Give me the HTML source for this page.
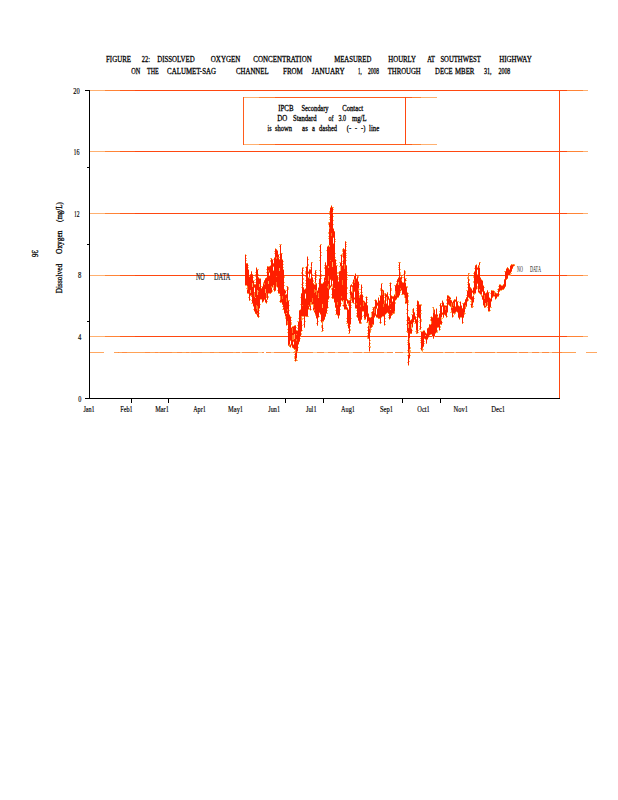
<!DOCTYPE html>
<html><head><meta charset="utf-8"><title>Figure 22</title>
<style>
html,body{margin:0;padding:0;background:#fff;}
body{width:618px;height:800px;overflow:hidden;font-family:"Liberation Serif",serif;}
svg{display:block;}
text{font-family:"Liberation Serif",serif;stroke:#000;stroke-width:0.3px;paint-order:stroke fill;}
</style></head><body>
<svg width="618" height="800" viewBox="0 0 618 800">
<rect width="618" height="800" fill="#fff"/>
<g shape-rendering="crispEdges">
<rect x="90" y="90" width="498" height="1" fill="#ffb070"/>
<rect x="105" y="90" width="478" height="1" fill="#ff8436"/>
<rect x="120" y="90" width="447" height="1" fill="#ff5c1c"/>
<rect x="135" y="90" width="432" height="1" fill="#ff4810"/>
<rect x="90" y="151" width="498" height="1" fill="#ffb070"/>
<rect x="105" y="151" width="478" height="1" fill="#ff8436"/>
<rect x="120" y="151" width="447" height="1" fill="#ff5c1c"/>
<rect x="135" y="151" width="432" height="1" fill="#ff4810"/>
<rect x="90" y="213" width="498" height="1" fill="#ffb070"/>
<rect x="105" y="213" width="478" height="1" fill="#ff8436"/>
<rect x="120" y="213" width="447" height="1" fill="#ff5c1c"/>
<rect x="135" y="213" width="432" height="1" fill="#ff4810"/>
<rect x="90" y="275" width="498" height="1" fill="#ffb070"/>
<rect x="105" y="275" width="478" height="1" fill="#ff8436"/>
<rect x="120" y="275" width="447" height="1" fill="#ff5c1c"/>
<rect x="135" y="275" width="432" height="1" fill="#ff4810"/>
<rect x="90" y="336" width="498" height="1" fill="#ffb070"/>
<rect x="105" y="336" width="478" height="1" fill="#ff8436"/>
<rect x="120" y="336" width="447" height="1" fill="#ff5c1c"/>
<rect x="135" y="336" width="432" height="1" fill="#ff4810"/>
<rect x="90" y="352" width="14" height="1" fill="#ffa862"/>
<rect x="114" y="352" width="462" height="1" fill="#ffa256"/>
<rect x="586" y="352" width="11" height="1" fill="#ffa862"/>
<rect x="236" y="352" width="326" height="1" fill="#ff8a40"/>
<rect x="118" y="352" width="1" height="1" fill="#ff8a40"/>
<rect x="122" y="352" width="5" height="1" fill="#ff8a40"/>
<rect x="145" y="352" width="5" height="1" fill="#ff8a40"/>
<rect x="155" y="352" width="3" height="1" fill="#ff8a40"/>
<rect x="160" y="352" width="12" height="1" fill="#ff8a40"/>
<rect x="177" y="352" width="5" height="1" fill="#ff8a40"/>
<rect x="186" y="352" width="3" height="1" fill="#ff8a40"/>
<rect x="191" y="352" width="11" height="1" fill="#ff8a40"/>
<rect x="210" y="352" width="4" height="1" fill="#ff8a40"/>
<rect x="219" y="352" width="14" height="1" fill="#ff8a40"/>
<rect x="240" y="352" width="2" height="1" fill="#ffc48c"/>
<rect x="258" y="352" width="4" height="1" fill="#ffc48c"/>
<rect x="271" y="352" width="3" height="1" fill="#ffc48c"/>
<rect x="290" y="352" width="3" height="1" fill="#ffc48c"/>
<rect x="313" y="352" width="4" height="1" fill="#ffc48c"/>
<rect x="324" y="352" width="4" height="1" fill="#ffc48c"/>
<rect x="335" y="352" width="3" height="1" fill="#ffc48c"/>
<rect x="349" y="352" width="4" height="1" fill="#ffc48c"/>
<rect x="362" y="352" width="2" height="1" fill="#ffc48c"/>
<rect x="384" y="352" width="3" height="1" fill="#ffc48c"/>
<rect x="403" y="352" width="4" height="1" fill="#ffc48c"/>
<rect x="420" y="352" width="3" height="1" fill="#ffc48c"/>
<rect x="443" y="352" width="2" height="1" fill="#ffc48c"/>
<rect x="454" y="352" width="2" height="1" fill="#ffc48c"/>
<rect x="472" y="352" width="3" height="1" fill="#ffc48c"/>
<rect x="495" y="352" width="2" height="1" fill="#ffc48c"/>
<rect x="517" y="352" width="2" height="1" fill="#ffc48c"/>
<rect x="528" y="352" width="4" height="1" fill="#ffc48c"/>
<rect x="539" y="352" width="3" height="1" fill="#ffc48c"/>
<rect x="549" y="352" width="3" height="1" fill="#ffc48c"/>
<rect x="264" y="352" width="2" height="1" fill="#fff"/>
<rect x="393" y="352" width="2" height="1" fill="#fff"/>
<rect x="243" y="97" width="194" height="1" fill="#ffb070"/>
<rect x="259" y="97" width="162" height="1" fill="#ff8436"/>
<rect x="275" y="97" width="137" height="1" fill="#ff5c1c"/>
<rect x="243" y="144" width="194" height="1" fill="#ffb070"/>
<rect x="259" y="144" width="162" height="1" fill="#ff8436"/>
<rect x="275" y="144" width="137" height="1" fill="#ff5c1c"/>
<rect x="243" y="97" width="1" height="48" fill="#ff5c1c"/>
<rect x="405" y="97" width="1" height="48" fill="#ff4810"/>
<rect x="559" y="90" width="1" height="309" fill="#ff4810"/>
</g>
<g>
<text x="106.0" y="62.0" font-size="9" textLength="25.0" lengthAdjust="spacingAndGlyphs" fill="#000">FIGURE</text>
<text x="141.8" y="62.0" font-size="9" textLength="8.2" lengthAdjust="spacingAndGlyphs" fill="#000">22:</text>
<text x="157.2" y="62.0" font-size="9" textLength="37.5" lengthAdjust="spacingAndGlyphs" fill="#000">DISSOLVED</text>
<text x="210.8" y="62.0" font-size="9" textLength="29.5" lengthAdjust="spacingAndGlyphs" fill="#000">OXYGEN</text>
<text x="253.3" y="62.0" font-size="9" textLength="58.4" lengthAdjust="spacingAndGlyphs" fill="#000">CONCENTRATION</text>
<text x="334.2" y="62.0" font-size="9" textLength="37.2" lengthAdjust="spacingAndGlyphs" fill="#000">MEASURED</text>
<text x="388.3" y="62.0" font-size="9" textLength="27.7" lengthAdjust="spacingAndGlyphs" fill="#000">HOURLY</text>
<text x="427.2" y="62.0" font-size="9" textLength="7.8" lengthAdjust="spacingAndGlyphs" fill="#000">AT</text>
<text x="440.4" y="62.0" font-size="9" textLength="40.4" lengthAdjust="spacingAndGlyphs" fill="#000">SOUTHWEST</text>
<text x="499.2" y="62.0" font-size="9" textLength="32.5" lengthAdjust="spacingAndGlyphs" fill="#000">HIGHWAY</text>
<text x="131.3" y="74.0" font-size="9" textLength="9.0" lengthAdjust="spacingAndGlyphs" fill="#000">ON</text>
<text x="147.0" y="74.0" font-size="9" textLength="11.7" lengthAdjust="spacingAndGlyphs" fill="#000">THE</text>
<text x="167.1" y="74.0" font-size="9" textLength="48.9" lengthAdjust="spacingAndGlyphs" fill="#000">CALUMET-SAG</text>
<text x="236.0" y="74.0" font-size="9" textLength="32.6" lengthAdjust="spacingAndGlyphs" fill="#000">CHANNEL</text>
<text x="283.0" y="74.0" font-size="9" textLength="19.8" lengthAdjust="spacingAndGlyphs" fill="#000">FROM</text>
<text x="311.7" y="74.0" font-size="9" textLength="32.9" lengthAdjust="spacingAndGlyphs" fill="#000">JANUARY</text>
<text x="358.0" y="74.0" font-size="9" textLength="3.7" lengthAdjust="spacingAndGlyphs" fill="#000">1,</text>
<text x="367.9" y="74.0" font-size="9" textLength="11.0" lengthAdjust="spacingAndGlyphs" fill="#000">2008</text>
<text x="387.7" y="74.0" font-size="9" textLength="33.0" lengthAdjust="spacingAndGlyphs" fill="#000">THROUGH</text>
<text x="435.1" y="74.0" font-size="9" textLength="17.5" lengthAdjust="spacingAndGlyphs" fill="#000">DECE</text>
<text x="455.0" y="74.0" font-size="9" textLength="19.4" lengthAdjust="spacingAndGlyphs" fill="#000">MBER</text>
<text x="484.0" y="74.0" font-size="9" textLength="7.5" lengthAdjust="spacingAndGlyphs" fill="#000">31,</text>
<text x="498.6" y="74.0" font-size="9" textLength="11.7" lengthAdjust="spacingAndGlyphs" fill="#000">2008</text>
<text x="278.3" y="110.5" font-size="9" textLength="15.2" lengthAdjust="spacingAndGlyphs" fill="#000">IPCB</text>
<text x="301.4" y="110.5" font-size="9" textLength="27.2" lengthAdjust="spacingAndGlyphs" fill="#000">Secondary</text>
<text x="342.2" y="110.5" font-size="9" textLength="20.8" lengthAdjust="spacingAndGlyphs" fill="#000">Contact</text>
<text x="277.2" y="120.7" font-size="9" textLength="10.0" lengthAdjust="spacingAndGlyphs" fill="#000">DO</text>
<text x="293.0" y="120.7" font-size="9" textLength="23.6" lengthAdjust="spacingAndGlyphs" fill="#000">Standard</text>
<text x="328.6" y="120.7" font-size="9" textLength="5.0" lengthAdjust="spacingAndGlyphs" fill="#000">of</text>
<text x="338.4" y="120.7" font-size="9" textLength="7.6" lengthAdjust="spacingAndGlyphs" fill="#000">3.0</text>
<text x="352.0" y="120.7" font-size="9" textLength="14.5" lengthAdjust="spacingAndGlyphs" fill="#000">mg/L</text>
<text x="267.5" y="130.5" font-size="9" textLength="4.0" lengthAdjust="spacingAndGlyphs" fill="#000">is</text>
<text x="274.9" y="130.5" font-size="9" textLength="17.0" lengthAdjust="spacingAndGlyphs" fill="#000">shown</text>
<text x="302.1" y="130.5" font-size="9" textLength="5.7" lengthAdjust="spacingAndGlyphs" fill="#000">as</text>
<text x="312.1" y="130.5" font-size="9" textLength="2.9" lengthAdjust="spacingAndGlyphs" fill="#000">a</text>
<text x="319.1" y="130.5" font-size="9" textLength="17.9" lengthAdjust="spacingAndGlyphs" fill="#000">dashed</text>
<text x="346.8" y="130.5" font-size="9" textLength="4.4" lengthAdjust="spacingAndGlyphs" fill="#000">(-</text>
<text x="355.0" y="130.5" font-size="9" textLength="2.0" lengthAdjust="spacingAndGlyphs" fill="#000">-</text>
<text x="361.0" y="130.5" font-size="9" textLength="4.3" lengthAdjust="spacingAndGlyphs" fill="#000">-)</text>
<text x="369.0" y="130.5" font-size="9" textLength="10.2" lengthAdjust="spacingAndGlyphs" fill="#000">line</text>
<text x="73.2" y="94.0" font-size="9" textLength="6.4" lengthAdjust="spacingAndGlyphs" fill="#000" style="stroke-width:0.18px">20</text>
<text x="73.6" y="155.0" font-size="9" textLength="6.0" lengthAdjust="spacingAndGlyphs" fill="#000" style="stroke-width:0.18px">16</text>
<text x="73.9" y="217.0" font-size="9" textLength="5.6" lengthAdjust="spacingAndGlyphs" fill="#000" style="stroke-width:0.18px">12</text>
<text x="78.0" y="278.0" font-size="9" textLength="3.3" lengthAdjust="spacingAndGlyphs" fill="#000" style="stroke-width:0.18px">8</text>
<text x="78.0" y="340.0" font-size="9" textLength="3.3" lengthAdjust="spacingAndGlyphs" fill="#000" style="stroke-width:0.18px">4</text>
<text x="78.2" y="402.0" font-size="9" textLength="3.1" lengthAdjust="spacingAndGlyphs" fill="#000" style="stroke-width:0.18px">0</text>
<text x="83.4" y="412.0" font-size="9" textLength="11.3" lengthAdjust="spacingAndGlyphs" fill="#000" style="stroke-width:0.18px">Jan1</text>
<text x="120.2" y="412.0" font-size="9" textLength="12.4" lengthAdjust="spacingAndGlyphs" fill="#000" style="stroke-width:0.18px">Feb1</text>
<text x="155.2" y="412.0" font-size="9" textLength="13.7" lengthAdjust="spacingAndGlyphs" fill="#000" style="stroke-width:0.18px">Mar1</text>
<text x="193.2" y="412.0" font-size="9" textLength="12.6" lengthAdjust="spacingAndGlyphs" fill="#000" style="stroke-width:0.18px">Apr1</text>
<text x="228.0" y="412.0" font-size="9" textLength="15.1" lengthAdjust="spacingAndGlyphs" fill="#000" style="stroke-width:0.18px">May1</text>
<text x="268.3" y="412.0" font-size="9" textLength="11.7" lengthAdjust="spacingAndGlyphs" fill="#000" style="stroke-width:0.18px">Jun1</text>
<text x="305.9" y="412.0" font-size="9" textLength="10.7" lengthAdjust="spacingAndGlyphs" fill="#000" style="stroke-width:0.18px">Jul1</text>
<text x="341.1" y="412.0" font-size="9" textLength="13.9" lengthAdjust="spacingAndGlyphs" fill="#000" style="stroke-width:0.18px">Aug1</text>
<text x="380.0" y="412.0" font-size="9" textLength="13.0" lengthAdjust="spacingAndGlyphs" fill="#000" style="stroke-width:0.18px">Sep1</text>
<text x="417.3" y="412.0" font-size="9" textLength="12.4" lengthAdjust="spacingAndGlyphs" fill="#000" style="stroke-width:0.18px">Oct1</text>
<text x="453.6" y="412.0" font-size="9" textLength="14.4" lengthAdjust="spacingAndGlyphs" fill="#000" style="stroke-width:0.18px">Nov1</text>
<text x="491.3" y="412.0" font-size="9" textLength="13.8" lengthAdjust="spacingAndGlyphs" fill="#000" style="stroke-width:0.18px">Dec1</text>
<text x="195.9" y="280.0" font-size="10" textLength="8.8" lengthAdjust="spacingAndGlyphs" fill="#222" style="stroke-width:0.15px">NO</text>
<text x="213.9" y="280.0" font-size="10" textLength="16.5" lengthAdjust="spacingAndGlyphs" fill="#222" style="stroke-width:0.15px">DATA</text>
<text x="517.0" y="272.0" font-size="7.5" textLength="5.8" lengthAdjust="spacingAndGlyphs" fill="#111" style="stroke:none">NO</text>
<text x="529.9" y="272.0" font-size="7.5" textLength="11.1" lengthAdjust="spacingAndGlyphs" fill="#111" style="stroke:none">DATA</text>
<text transform="translate(62.3 293.2) rotate(-90)" font-size="9" textLength="29.3" lengthAdjust="spacingAndGlyphs" fill="#000">Dissolved</text>
<text transform="translate(62.3 254.0) rotate(-90)" font-size="9" textLength="23.6" lengthAdjust="spacingAndGlyphs" fill="#000">Oxygen</text>
<text transform="translate(62.3 221.9) rotate(-90)" font-size="9" textLength="19.7" lengthAdjust="spacingAndGlyphs" fill="#000">(mg/L)</text>
<text transform="translate(32.3 250) rotate(90)" font-size="9" textLength="7.2" lengthAdjust="spacingAndGlyphs" fill="#000">36</text>
</g>
<g shape-rendering="crispEdges">
<rect x="245" y="254" width="1" height="32" fill="#ff1e00"/>
<rect x="245" y="254" width="1" height="1" fill="#ffb060"/>
<rect x="245" y="285" width="1" height="1" fill="#ffb060"/>
<rect x="246" y="255" width="1" height="1" fill="#ffb060"/>
<rect x="246" y="258" width="1" height="1" fill="#ffb060"/>
<rect x="246" y="260" width="1" height="1" fill="#ffb060"/>
<rect x="246" y="263" width="1" height="23" fill="#ff1e00"/>
<rect x="246" y="263" width="1" height="1" fill="#ff7a28"/>
<rect x="246" y="285" width="1" height="1" fill="#ffb060"/>
<rect x="247" y="263" width="1" height="31" fill="#ff1e00"/>
<rect x="247" y="263" width="1" height="1" fill="#ff7a28"/>
<rect x="247" y="293" width="1" height="1" fill="#ffb060"/>
<rect x="246" y="288" width="1" height="1" fill="#ffb060"/>
<rect x="248" y="265" width="1" height="1" fill="#ffb060"/>
<rect x="248" y="267" width="1" height="1" fill="#ffb060"/>
<rect x="247" y="286" width="1" height="4" fill="#ff7a28"/>
<rect x="248" y="269" width="1" height="25" fill="#ff1e00"/>
<rect x="248" y="269" width="1" height="1" fill="#ffb060"/>
<rect x="248" y="293" width="1" height="1" fill="#ff7a28"/>
<rect x="249" y="276" width="1" height="25" fill="#ff1e00"/>
<rect x="249" y="276" width="1" height="1" fill="#ffb060"/>
<rect x="249" y="300" width="1" height="1" fill="#ff7a28"/>
<rect x="248" y="297" width="1" height="1" fill="#ffb060"/>
<rect x="250" y="299" width="1" height="1" fill="#ffb060"/>
<rect x="250" y="274" width="1" height="22" fill="#ff1e00"/>
<rect x="250" y="274" width="1" height="1" fill="#ff7a28"/>
<rect x="250" y="295" width="1" height="1" fill="#ff7a28"/>
<rect x="250" y="290" width="1" height="3" fill="#ffb060"/>
<rect x="251" y="271" width="1" height="26" fill="#ff1e00"/>
<rect x="251" y="271" width="1" height="1" fill="#ff7a28"/>
<rect x="251" y="296" width="1" height="1" fill="#ff7a28"/>
<rect x="251" y="295" width="1" height="1" fill="#ff7a28"/>
<rect x="252" y="274" width="1" height="30" fill="#ff1e00"/>
<rect x="252" y="274" width="1" height="1" fill="#ff7a28"/>
<rect x="252" y="303" width="1" height="1" fill="#ffb060"/>
<rect x="251" y="300" width="1" height="1" fill="#ffb060"/>
<rect x="251" y="303" width="1" height="1" fill="#ffb060"/>
<rect x="253" y="277" width="1" height="1" fill="#ffb060"/>
<rect x="252" y="283" width="1" height="4" fill="#ffb060"/>
<rect x="253" y="280" width="1" height="27" fill="#ff1e00"/>
<rect x="253" y="280" width="1" height="1" fill="#ffb060"/>
<rect x="253" y="306" width="1" height="1" fill="#ffb060"/>
<rect x="254" y="280" width="1" height="1" fill="#ffb060"/>
<rect x="254" y="282" width="1" height="1" fill="#ffb060"/>
<rect x="254" y="284" width="1" height="28" fill="#ff1e00"/>
<rect x="254" y="284" width="1" height="1" fill="#ff7a28"/>
<rect x="254" y="311" width="1" height="1" fill="#ffb060"/>
<rect x="253" y="309" width="1" height="1" fill="#ffb060"/>
<rect x="254" y="288" width="1" height="5" fill="#fff"/>
<rect x="254" y="287" width="1" height="1" fill="#ff7a28"/>
<rect x="254" y="293" width="1" height="1" fill="#ffb060"/>
<rect x="254" y="292" width="1" height="5" fill="#ff7a28"/>
<rect x="255" y="284" width="1" height="30" fill="#ff1e00"/>
<rect x="255" y="284" width="1" height="1" fill="#ff7a28"/>
<rect x="255" y="313" width="1" height="1" fill="#ff7a28"/>
<rect x="255" y="297" width="1" height="1" fill="#ffb060"/>
<rect x="256" y="267" width="1" height="48" fill="#ff1e00"/>
<rect x="256" y="267" width="1" height="1" fill="#ffb060"/>
<rect x="256" y="314" width="1" height="1" fill="#ffb060"/>
<rect x="255" y="272" width="1" height="1" fill="#ffb060"/>
<rect x="255" y="274" width="1" height="1" fill="#ffb060"/>
<rect x="255" y="276" width="1" height="1" fill="#ffb060"/>
<rect x="255" y="279" width="1" height="1" fill="#ffb060"/>
<rect x="255" y="282" width="1" height="1" fill="#ffb060"/>
<rect x="256" y="305" width="1" height="4" fill="#ff7a28"/>
<rect x="257" y="269" width="1" height="48" fill="#ff1e00"/>
<rect x="257" y="269" width="1" height="1" fill="#ffb060"/>
<rect x="257" y="316" width="1" height="1" fill="#ff7a28"/>
<rect x="258" y="269" width="1" height="1" fill="#ffb060"/>
<rect x="258" y="274" width="1" height="1" fill="#ffb060"/>
<rect x="257" y="290" width="1" height="5" fill="#ffb060"/>
<rect x="257" y="306" width="1" height="5" fill="#ff7a28"/>
<rect x="257" y="313" width="1" height="1" fill="#ff7a28"/>
<rect x="258" y="277" width="1" height="41" fill="#ff1e00"/>
<rect x="258" y="277" width="1" height="1" fill="#ff7a28"/>
<rect x="258" y="317" width="1" height="1" fill="#ff7a28"/>
<rect x="259" y="310" width="1" height="1" fill="#ffb060"/>
<rect x="259" y="313" width="1" height="1" fill="#ffb060"/>
<rect x="259" y="316" width="1" height="1" fill="#ffb060"/>
<rect x="258" y="291" width="1" height="1" fill="#ff7a28"/>
<rect x="259" y="278" width="1" height="31" fill="#ff1e00"/>
<rect x="259" y="278" width="1" height="1" fill="#ffb060"/>
<rect x="259" y="308" width="1" height="1" fill="#ffb060"/>
<rect x="260" y="304" width="1" height="1" fill="#ffb060"/>
<rect x="259" y="284" width="1" height="3" fill="#ffb060"/>
<rect x="260" y="278" width="1" height="22" fill="#ff1e00"/>
<rect x="260" y="278" width="1" height="1" fill="#ffb060"/>
<rect x="260" y="299" width="1" height="1" fill="#ffb060"/>
<rect x="261" y="286" width="1" height="1" fill="#ffb060"/>
<rect x="261" y="288" width="1" height="12" fill="#ff1e00"/>
<rect x="261" y="288" width="1" height="1" fill="#ff7a28"/>
<rect x="261" y="299" width="1" height="1" fill="#ffb060"/>
<rect x="262" y="286" width="1" height="17" fill="#ff1e00"/>
<rect x="262" y="286" width="1" height="1" fill="#ffb060"/>
<rect x="262" y="302" width="1" height="1" fill="#ffb060"/>
<rect x="263" y="282" width="1" height="20" fill="#ff1e00"/>
<rect x="263" y="282" width="1" height="1" fill="#ffb060"/>
<rect x="263" y="301" width="1" height="1" fill="#ffb060"/>
<rect x="263" y="283" width="1" height="1" fill="#ff7a28"/>
<rect x="264" y="280" width="1" height="20" fill="#ff1e00"/>
<rect x="264" y="280" width="1" height="1" fill="#ff7a28"/>
<rect x="264" y="299" width="1" height="1" fill="#ff7a28"/>
<rect x="264" y="283" width="1" height="2" fill="#ff7a28"/>
<rect x="265" y="278" width="1" height="25" fill="#ff1e00"/>
<rect x="265" y="278" width="1" height="1" fill="#ff7a28"/>
<rect x="265" y="302" width="1" height="1" fill="#ffb060"/>
<rect x="265" y="289" width="1" height="4" fill="#ffb060"/>
<rect x="266" y="277" width="1" height="27" fill="#ff1e00"/>
<rect x="266" y="277" width="1" height="1" fill="#ffb060"/>
<rect x="266" y="303" width="1" height="1" fill="#ffb060"/>
<rect x="267" y="301" width="1" height="1" fill="#ffb060"/>
<rect x="266" y="294" width="1" height="5" fill="#fff"/>
<rect x="266" y="293" width="1" height="1" fill="#ff7a28"/>
<rect x="266" y="299" width="1" height="1" fill="#ffb060"/>
<rect x="266" y="293" width="1" height="5" fill="#ff7a28"/>
<rect x="267" y="266" width="1" height="34" fill="#ff1e00"/>
<rect x="267" y="266" width="1" height="1" fill="#ff7a28"/>
<rect x="267" y="299" width="1" height="1" fill="#ff7a28"/>
<rect x="266" y="269" width="1" height="1" fill="#ffb060"/>
<rect x="266" y="272" width="1" height="1" fill="#ffb060"/>
<rect x="268" y="296" width="1" height="1" fill="#ffb060"/>
<rect x="268" y="297" width="1" height="1" fill="#ffb060"/>
<rect x="268" y="266" width="1" height="28" fill="#ff1e00"/>
<rect x="268" y="266" width="1" height="1" fill="#ffb060"/>
<rect x="268" y="293" width="1" height="1" fill="#ffb060"/>
<rect x="268" y="270" width="1" height="2" fill="#ff7a28"/>
<rect x="268" y="281" width="1" height="3" fill="#ffb060"/>
<rect x="269" y="266" width="1" height="28" fill="#ff1e00"/>
<rect x="269" y="266" width="1" height="1" fill="#ff7a28"/>
<rect x="269" y="293" width="1" height="1" fill="#ffb060"/>
<rect x="269" y="273" width="1" height="2" fill="#fff"/>
<rect x="269" y="272" width="1" height="1" fill="#ff7a28"/>
<rect x="269" y="275" width="1" height="1" fill="#ffb060"/>
<rect x="270" y="265" width="1" height="29" fill="#ff1e00"/>
<rect x="270" y="265" width="1" height="1" fill="#ffb060"/>
<rect x="270" y="293" width="1" height="1" fill="#ff7a28"/>
<rect x="271" y="258" width="1" height="35" fill="#ff1e00"/>
<rect x="271" y="258" width="1" height="1" fill="#ff7a28"/>
<rect x="271" y="292" width="1" height="1" fill="#ff7a28"/>
<rect x="270" y="258" width="1" height="1" fill="#ffb060"/>
<rect x="270" y="260" width="1" height="1" fill="#ffb060"/>
<rect x="270" y="261" width="1" height="1" fill="#ffb060"/>
<rect x="272" y="290" width="1" height="1" fill="#ffb060"/>
<rect x="272" y="291" width="1" height="1" fill="#ffb060"/>
<rect x="271" y="286" width="1" height="2" fill="#ff7a28"/>
<rect x="272" y="259" width="1" height="29" fill="#ff1e00"/>
<rect x="272" y="259" width="1" height="1" fill="#ffb060"/>
<rect x="272" y="287" width="1" height="1" fill="#ffb060"/>
<rect x="273" y="259" width="1" height="1" fill="#ffb060"/>
<rect x="273" y="263" width="1" height="27" fill="#ff1e00"/>
<rect x="273" y="263" width="1" height="1" fill="#ff7a28"/>
<rect x="273" y="289" width="1" height="1" fill="#ff7a28"/>
<rect x="273" y="267" width="1" height="3" fill="#fff"/>
<rect x="273" y="266" width="1" height="1" fill="#ff7a28"/>
<rect x="273" y="270" width="1" height="1" fill="#ffb060"/>
<rect x="273" y="285" width="1" height="4" fill="#ffb060"/>
<rect x="274" y="257" width="1" height="35" fill="#ff1e00"/>
<rect x="274" y="257" width="1" height="1" fill="#ffb060"/>
<rect x="274" y="291" width="1" height="1" fill="#ffb060"/>
<rect x="275" y="248" width="1" height="43" fill="#ff1e00"/>
<rect x="275" y="248" width="1" height="1" fill="#ffb060"/>
<rect x="275" y="290" width="1" height="1" fill="#ff7a28"/>
<rect x="274" y="251" width="1" height="1" fill="#ffb060"/>
<rect x="274" y="253" width="1" height="1" fill="#ffb060"/>
<rect x="276" y="249" width="1" height="38" fill="#ff1e00"/>
<rect x="276" y="249" width="1" height="1" fill="#ff7a28"/>
<rect x="276" y="286" width="1" height="1" fill="#ffb060"/>
<rect x="276" y="257" width="1" height="2" fill="#ff7a28"/>
<rect x="276" y="276" width="1" height="1" fill="#ff7a28"/>
<rect x="276" y="282" width="1" height="4" fill="#ff7a28"/>
<rect x="277" y="250" width="1" height="38" fill="#ff1e00"/>
<rect x="277" y="250" width="1" height="1" fill="#ffb060"/>
<rect x="277" y="287" width="1" height="1" fill="#ffb060"/>
<rect x="278" y="254" width="1" height="40" fill="#ff1e00"/>
<rect x="278" y="254" width="1" height="1" fill="#ffb060"/>
<rect x="278" y="293" width="1" height="1" fill="#ffb060"/>
<rect x="277" y="290" width="1" height="1" fill="#ffb060"/>
<rect x="278" y="257" width="1" height="1" fill="#ff7a28"/>
<rect x="279" y="259" width="1" height="35" fill="#ff1e00"/>
<rect x="279" y="259" width="1" height="1" fill="#ff7a28"/>
<rect x="279" y="293" width="1" height="1" fill="#ff7a28"/>
<rect x="279" y="268" width="1" height="3" fill="#ffb060"/>
<rect x="280" y="244" width="1" height="59" fill="#ff1e00"/>
<rect x="280" y="244" width="1" height="1" fill="#ffb060"/>
<rect x="280" y="302" width="1" height="1" fill="#ff7a28"/>
<rect x="279" y="244" width="1" height="1" fill="#ffb060"/>
<rect x="279" y="246" width="1" height="1" fill="#ffb060"/>
<rect x="279" y="254" width="1" height="1" fill="#ffb060"/>
<rect x="279" y="257" width="1" height="1" fill="#ffb060"/>
<rect x="279" y="295" width="1" height="1" fill="#ffb060"/>
<rect x="279" y="301" width="1" height="1" fill="#ffb060"/>
<rect x="281" y="244" width="1" height="1" fill="#ffb060"/>
<rect x="280" y="296" width="1" height="4" fill="#ff7a28"/>
<rect x="281" y="253" width="1" height="50" fill="#ff1e00"/>
<rect x="281" y="253" width="1" height="1" fill="#ff7a28"/>
<rect x="281" y="302" width="1" height="1" fill="#ffb060"/>
<rect x="282" y="253" width="1" height="1" fill="#ffb060"/>
<rect x="282" y="259" width="1" height="46" fill="#ff1e00"/>
<rect x="282" y="259" width="1" height="1" fill="#ffb060"/>
<rect x="282" y="304" width="1" height="1" fill="#ff7a28"/>
<rect x="283" y="261" width="1" height="1" fill="#ffb060"/>
<rect x="283" y="264" width="1" height="1" fill="#ffb060"/>
<rect x="283" y="267" width="1" height="1" fill="#ffb060"/>
<rect x="282" y="296" width="1" height="3" fill="#ff7a28"/>
<rect x="283" y="269" width="1" height="41" fill="#ff1e00"/>
<rect x="283" y="269" width="1" height="1" fill="#ffb060"/>
<rect x="283" y="309" width="1" height="1" fill="#ff7a28"/>
<rect x="282" y="306" width="1" height="1" fill="#ffb060"/>
<rect x="282" y="309" width="1" height="1" fill="#ffb060"/>
<rect x="284" y="276" width="1" height="1" fill="#ffb060"/>
<rect x="284" y="277" width="1" height="1" fill="#ffb060"/>
<rect x="284" y="282" width="1" height="1" fill="#ffb060"/>
<rect x="284" y="285" width="1" height="1" fill="#ffb060"/>
<rect x="283" y="307" width="1" height="1" fill="#ff7a28"/>
<rect x="284" y="289" width="1" height="25" fill="#ff1e00"/>
<rect x="284" y="289" width="1" height="1" fill="#ff7a28"/>
<rect x="284" y="313" width="1" height="1" fill="#ffb060"/>
<rect x="285" y="290" width="1" height="29" fill="#ff1e00"/>
<rect x="285" y="290" width="1" height="1" fill="#ffb060"/>
<rect x="285" y="318" width="1" height="1" fill="#ffb060"/>
<rect x="286" y="290" width="1" height="1" fill="#ffb060"/>
<rect x="285" y="293" width="1" height="2" fill="#ffb060"/>
<rect x="285" y="316" width="1" height="2" fill="#ffb060"/>
<rect x="286" y="294" width="1" height="32" fill="#ff1e00"/>
<rect x="286" y="294" width="1" height="1" fill="#ff7a28"/>
<rect x="286" y="325" width="1" height="1" fill="#ffb060"/>
<rect x="286" y="298" width="1" height="4" fill="#ff7a28"/>
<rect x="286" y="313" width="1" height="1" fill="#ffb060"/>
<rect x="287" y="286" width="1" height="39" fill="#ff1e00"/>
<rect x="287" y="286" width="1" height="1" fill="#ff7a28"/>
<rect x="287" y="324" width="1" height="1" fill="#ff7a28"/>
<rect x="286" y="286" width="1" height="1" fill="#ffb060"/>
<rect x="288" y="287" width="1" height="1" fill="#ffb060"/>
<rect x="288" y="288" width="1" height="1" fill="#ffb060"/>
<rect x="288" y="289" width="1" height="1" fill="#ffb060"/>
<rect x="287" y="309" width="1" height="2" fill="#ff7a28"/>
<rect x="287" y="321" width="1" height="3" fill="#ff7a28"/>
<rect x="288" y="300" width="1" height="46" fill="#ff1e00"/>
<rect x="288" y="300" width="1" height="1" fill="#ffb060"/>
<rect x="288" y="345" width="1" height="1" fill="#ff7a28"/>
<rect x="287" y="329" width="1" height="1" fill="#ffb060"/>
<rect x="287" y="332" width="1" height="1" fill="#ffb060"/>
<rect x="289" y="300" width="1" height="1" fill="#ffb060"/>
<rect x="289" y="305" width="1" height="1" fill="#ffb060"/>
<rect x="289" y="310" width="1" height="1" fill="#ffb060"/>
<rect x="289" y="314" width="1" height="33" fill="#ff1e00"/>
<rect x="289" y="314" width="1" height="1" fill="#ffb060"/>
<rect x="289" y="346" width="1" height="1" fill="#ff7a28"/>
<rect x="289" y="344" width="1" height="2" fill="#ff7a28"/>
<rect x="290" y="316" width="1" height="32" fill="#ff1e00"/>
<rect x="290" y="316" width="1" height="1" fill="#ffb060"/>
<rect x="290" y="347" width="1" height="1" fill="#ffb060"/>
<rect x="291" y="317" width="1" height="1" fill="#ffb060"/>
<rect x="291" y="320" width="1" height="1" fill="#ffb060"/>
<rect x="291" y="322" width="1" height="1" fill="#ffb060"/>
<rect x="291" y="323" width="1" height="1" fill="#ffb060"/>
<rect x="291" y="324" width="1" height="1" fill="#ffb060"/>
<rect x="290" y="341" width="1" height="3" fill="#fff"/>
<rect x="290" y="340" width="1" height="1" fill="#ff7a28"/>
<rect x="290" y="344" width="1" height="1" fill="#ffb060"/>
<rect x="291" y="327" width="1" height="19" fill="#ff1e00"/>
<rect x="291" y="327" width="1" height="1" fill="#ffb060"/>
<rect x="291" y="345" width="1" height="1" fill="#ffb060"/>
<rect x="292" y="326" width="1" height="22" fill="#ff1e00"/>
<rect x="292" y="326" width="1" height="1" fill="#ffb060"/>
<rect x="292" y="347" width="1" height="1" fill="#ff7a28"/>
<rect x="292" y="328" width="1" height="5" fill="#ff7a28"/>
<rect x="292" y="335" width="1" height="5" fill="#ff7a28"/>
<rect x="293" y="326" width="1" height="23" fill="#ff1e00"/>
<rect x="293" y="326" width="1" height="1" fill="#ff7a28"/>
<rect x="293" y="348" width="1" height="1" fill="#ffb060"/>
<rect x="293" y="342" width="1" height="2" fill="#fff"/>
<rect x="293" y="341" width="1" height="1" fill="#ff7a28"/>
<rect x="293" y="344" width="1" height="1" fill="#ffb060"/>
<rect x="293" y="335" width="1" height="5" fill="#ff7a28"/>
<rect x="294" y="325" width="1" height="25" fill="#ff1e00"/>
<rect x="294" y="325" width="1" height="1" fill="#ffb060"/>
<rect x="294" y="349" width="1" height="1" fill="#ff7a28"/>
<rect x="294" y="334" width="1" height="5" fill="#ffb060"/>
<rect x="295" y="325" width="1" height="37" fill="#ff1e00"/>
<rect x="295" y="325" width="1" height="1" fill="#ff7a28"/>
<rect x="295" y="361" width="1" height="1" fill="#ffb060"/>
<rect x="294" y="351" width="1" height="1" fill="#ffb060"/>
<rect x="294" y="354" width="1" height="1" fill="#ffb060"/>
<rect x="294" y="356" width="1" height="1" fill="#ffb060"/>
<rect x="294" y="357" width="1" height="1" fill="#ffb060"/>
<rect x="294" y="358" width="1" height="1" fill="#ffb060"/>
<rect x="294" y="360" width="1" height="1" fill="#ffb060"/>
<rect x="296" y="327" width="1" height="1" fill="#ffb060"/>
<rect x="295" y="349" width="1" height="4" fill="#ff7a28"/>
<rect x="296" y="330" width="1" height="31" fill="#ff1e00"/>
<rect x="296" y="330" width="1" height="1" fill="#ff7a28"/>
<rect x="296" y="360" width="1" height="1" fill="#ff7a28"/>
<rect x="297" y="360" width="1" height="1" fill="#ffb060"/>
<rect x="296" y="334" width="1" height="1" fill="#ff7a28"/>
<rect x="296" y="339" width="1" height="2" fill="#ff7a28"/>
<rect x="296" y="358" width="1" height="2" fill="#ffb060"/>
<rect x="297" y="330" width="1" height="22" fill="#ff1e00"/>
<rect x="297" y="330" width="1" height="1" fill="#ffb060"/>
<rect x="297" y="351" width="1" height="1" fill="#ffb060"/>
<rect x="298" y="347" width="1" height="1" fill="#ffb060"/>
<rect x="298" y="321" width="1" height="24" fill="#ff1e00"/>
<rect x="298" y="321" width="1" height="1" fill="#ffb060"/>
<rect x="298" y="344" width="1" height="1" fill="#ffb060"/>
<rect x="297" y="321" width="1" height="1" fill="#ffb060"/>
<rect x="297" y="325" width="1" height="1" fill="#ffb060"/>
<rect x="297" y="328" width="1" height="1" fill="#ffb060"/>
<rect x="299" y="310" width="1" height="32" fill="#ff1e00"/>
<rect x="299" y="310" width="1" height="1" fill="#ff7a28"/>
<rect x="299" y="341" width="1" height="1" fill="#ff7a28"/>
<rect x="298" y="318" width="1" height="1" fill="#ffb060"/>
<rect x="300" y="338" width="1" height="1" fill="#ffb060"/>
<rect x="300" y="309" width="1" height="28" fill="#ff1e00"/>
<rect x="300" y="309" width="1" height="1" fill="#ffb060"/>
<rect x="300" y="336" width="1" height="1" fill="#ff7a28"/>
<rect x="301" y="333" width="1" height="1" fill="#ffb060"/>
<rect x="301" y="334" width="1" height="1" fill="#ffb060"/>
<rect x="301" y="293" width="1" height="39" fill="#ff1e00"/>
<rect x="301" y="293" width="1" height="1" fill="#ff7a28"/>
<rect x="301" y="331" width="1" height="1" fill="#ffb060"/>
<rect x="300" y="297" width="1" height="1" fill="#ffb060"/>
<rect x="300" y="304" width="1" height="1" fill="#ffb060"/>
<rect x="302" y="318" width="1" height="1" fill="#ffb060"/>
<rect x="302" y="319" width="1" height="1" fill="#ffb060"/>
<rect x="302" y="325" width="1" height="1" fill="#ffb060"/>
<rect x="302" y="330" width="1" height="1" fill="#ffb060"/>
<rect x="301" y="316" width="1" height="5" fill="#ff7a28"/>
<rect x="302" y="267" width="1" height="50" fill="#ff1e00"/>
<rect x="302" y="267" width="1" height="1" fill="#ffb060"/>
<rect x="302" y="316" width="1" height="1" fill="#ffb060"/>
<rect x="301" y="272" width="1" height="1" fill="#ffb060"/>
<rect x="301" y="273" width="1" height="1" fill="#ffb060"/>
<rect x="301" y="284" width="1" height="1" fill="#ffb060"/>
<rect x="301" y="287" width="1" height="1" fill="#ffb060"/>
<rect x="303" y="267" width="1" height="1" fill="#ffb060"/>
<rect x="303" y="268" width="1" height="1" fill="#ffb060"/>
<rect x="303" y="270" width="1" height="1" fill="#ffb060"/>
<rect x="303" y="274" width="1" height="1" fill="#ffb060"/>
<rect x="303" y="278" width="1" height="1" fill="#ffb060"/>
<rect x="303" y="279" width="1" height="1" fill="#ffb060"/>
<rect x="303" y="282" width="1" height="1" fill="#ffb060"/>
<rect x="303" y="283" width="1" height="1" fill="#ffb060"/>
<rect x="303" y="285" width="1" height="1" fill="#ffb060"/>
<rect x="302" y="305" width="1" height="1" fill="#ff7a28"/>
<rect x="303" y="287" width="1" height="30" fill="#ff1e00"/>
<rect x="303" y="287" width="1" height="1" fill="#ff7a28"/>
<rect x="303" y="316" width="1" height="1" fill="#ffb060"/>
<rect x="304" y="289" width="1" height="39" fill="#ff1e00"/>
<rect x="304" y="289" width="1" height="1" fill="#ffb060"/>
<rect x="304" y="327" width="1" height="1" fill="#ff7a28"/>
<rect x="303" y="318" width="1" height="1" fill="#ffb060"/>
<rect x="303" y="324" width="1" height="1" fill="#ffb060"/>
<rect x="305" y="321" width="1" height="1" fill="#ffb060"/>
<rect x="305" y="288" width="1" height="29" fill="#ff1e00"/>
<rect x="305" y="288" width="1" height="1" fill="#ffb060"/>
<rect x="305" y="316" width="1" height="1" fill="#ffb060"/>
<rect x="305" y="294" width="1" height="4" fill="#fff"/>
<rect x="305" y="293" width="1" height="1" fill="#ff7a28"/>
<rect x="305" y="298" width="1" height="1" fill="#ffb060"/>
<rect x="306" y="266" width="1" height="51" fill="#ff1e00"/>
<rect x="306" y="266" width="1" height="1" fill="#ffb060"/>
<rect x="306" y="316" width="1" height="1" fill="#ff7a28"/>
<rect x="305" y="267" width="1" height="1" fill="#ffb060"/>
<rect x="305" y="271" width="1" height="1" fill="#ffb060"/>
<rect x="305" y="272" width="1" height="1" fill="#ffb060"/>
<rect x="305" y="273" width="1" height="1" fill="#ffb060"/>
<rect x="305" y="276" width="1" height="1" fill="#ffb060"/>
<rect x="305" y="280" width="1" height="1" fill="#ffb060"/>
<rect x="305" y="283" width="1" height="1" fill="#ffb060"/>
<rect x="305" y="285" width="1" height="1" fill="#ffb060"/>
<rect x="307" y="256" width="1" height="61" fill="#ff1e00"/>
<rect x="307" y="256" width="1" height="1" fill="#ffb060"/>
<rect x="307" y="316" width="1" height="1" fill="#ff7a28"/>
<rect x="308" y="259" width="1" height="1" fill="#ffb060"/>
<rect x="308" y="264" width="1" height="1" fill="#ffb060"/>
<rect x="308" y="265" width="1" height="1" fill="#ffb060"/>
<rect x="308" y="316" width="1" height="1" fill="#ffb060"/>
<rect x="308" y="271" width="1" height="39" fill="#ff1e00"/>
<rect x="308" y="271" width="1" height="1" fill="#ffb060"/>
<rect x="308" y="309" width="1" height="1" fill="#ffb060"/>
<rect x="308" y="274" width="1" height="3" fill="#fff"/>
<rect x="308" y="273" width="1" height="1" fill="#ff7a28"/>
<rect x="308" y="277" width="1" height="1" fill="#ffb060"/>
<rect x="308" y="305" width="1" height="1" fill="#ff7a28"/>
<rect x="309" y="269" width="1" height="38" fill="#ff1e00"/>
<rect x="309" y="269" width="1" height="1" fill="#ff7a28"/>
<rect x="309" y="306" width="1" height="1" fill="#ff7a28"/>
<rect x="309" y="277" width="1" height="2" fill="#ff7a28"/>
<rect x="310" y="269" width="1" height="42" fill="#ff1e00"/>
<rect x="310" y="269" width="1" height="1" fill="#ffb060"/>
<rect x="310" y="310" width="1" height="1" fill="#ffb060"/>
<rect x="309" y="308" width="1" height="1" fill="#ffb060"/>
<rect x="309" y="309" width="1" height="1" fill="#ffb060"/>
<rect x="311" y="309" width="1" height="1" fill="#ffb060"/>
<rect x="310" y="274" width="1" height="4" fill="#fff"/>
<rect x="310" y="273" width="1" height="1" fill="#ff7a28"/>
<rect x="310" y="278" width="1" height="1" fill="#ffb060"/>
<rect x="310" y="302" width="1" height="4" fill="#ff7a28"/>
<rect x="311" y="262" width="1" height="43" fill="#ff1e00"/>
<rect x="311" y="262" width="1" height="1" fill="#ff7a28"/>
<rect x="311" y="304" width="1" height="1" fill="#ffb060"/>
<rect x="310" y="267" width="1" height="1" fill="#ffb060"/>
<rect x="312" y="262" width="1" height="1" fill="#ffb060"/>
<rect x="312" y="274" width="1" height="1" fill="#ffb060"/>
<rect x="311" y="266" width="1" height="1" fill="#ff7a28"/>
<rect x="311" y="302" width="1" height="2" fill="#ff7a28"/>
<rect x="312" y="277" width="1" height="28" fill="#ff1e00"/>
<rect x="312" y="277" width="1" height="1" fill="#ff7a28"/>
<rect x="312" y="304" width="1" height="1" fill="#ffb060"/>
<rect x="313" y="280" width="1" height="1" fill="#ffb060"/>
<rect x="313" y="281" width="1" height="1" fill="#ffb060"/>
<rect x="312" y="298" width="1" height="4" fill="#ff7a28"/>
<rect x="313" y="283" width="1" height="28" fill="#ff1e00"/>
<rect x="313" y="283" width="1" height="1" fill="#ff7a28"/>
<rect x="313" y="310" width="1" height="1" fill="#ffb060"/>
<rect x="313" y="304" width="1" height="4" fill="#ff7a28"/>
<rect x="314" y="284" width="1" height="29" fill="#ff1e00"/>
<rect x="314" y="284" width="1" height="1" fill="#ffb060"/>
<rect x="314" y="312" width="1" height="1" fill="#ffb060"/>
<rect x="314" y="289" width="1" height="4" fill="#ff7a28"/>
<rect x="314" y="309" width="1" height="2" fill="#ff7a28"/>
<rect x="315" y="270" width="1" height="46" fill="#ff1e00"/>
<rect x="315" y="270" width="1" height="1" fill="#ff7a28"/>
<rect x="315" y="315" width="1" height="1" fill="#ffb060"/>
<rect x="314" y="273" width="1" height="1" fill="#ffb060"/>
<rect x="314" y="278" width="1" height="1" fill="#ffb060"/>
<rect x="314" y="282" width="1" height="1" fill="#ffb060"/>
<rect x="316" y="270" width="1" height="1" fill="#ffb060"/>
<rect x="316" y="272" width="1" height="1" fill="#ffb060"/>
<rect x="316" y="274" width="1" height="1" fill="#ffb060"/>
<rect x="316" y="276" width="1" height="1" fill="#ffb060"/>
<rect x="316" y="277" width="1" height="1" fill="#ffb060"/>
<rect x="316" y="279" width="1" height="1" fill="#ffb060"/>
<rect x="315" y="282" width="1" height="3" fill="#ff7a28"/>
<rect x="315" y="290" width="1" height="2" fill="#ff7a28"/>
<rect x="315" y="314" width="1" height="1" fill="#ff7a28"/>
<rect x="316" y="283" width="1" height="36" fill="#ff1e00"/>
<rect x="316" y="283" width="1" height="1" fill="#ff7a28"/>
<rect x="316" y="318" width="1" height="1" fill="#ffb060"/>
<rect x="316" y="290" width="1" height="5" fill="#ff7a28"/>
<rect x="317" y="290" width="1" height="36" fill="#ff1e00"/>
<rect x="317" y="290" width="1" height="1" fill="#ffb060"/>
<rect x="317" y="325" width="1" height="1" fill="#ff7a28"/>
<rect x="316" y="323" width="1" height="1" fill="#ffb060"/>
<rect x="318" y="321" width="1" height="1" fill="#ffb060"/>
<rect x="318" y="287" width="1" height="31" fill="#ff1e00"/>
<rect x="318" y="287" width="1" height="1" fill="#ffb060"/>
<rect x="318" y="317" width="1" height="1" fill="#ffb060"/>
<rect x="319" y="316" width="1" height="1" fill="#ffb060"/>
<rect x="318" y="294" width="1" height="3" fill="#fff"/>
<rect x="318" y="293" width="1" height="1" fill="#ff7a28"/>
<rect x="318" y="297" width="1" height="1" fill="#ffb060"/>
<rect x="318" y="294" width="1" height="3" fill="#ff7a28"/>
<rect x="319" y="278" width="1" height="35" fill="#ff1e00"/>
<rect x="319" y="278" width="1" height="1" fill="#ffb060"/>
<rect x="319" y="312" width="1" height="1" fill="#ff7a28"/>
<rect x="318" y="283" width="1" height="1" fill="#ffb060"/>
<rect x="320" y="244" width="1" height="71" fill="#ff1e00"/>
<rect x="320" y="244" width="1" height="1" fill="#ffb060"/>
<rect x="320" y="314" width="1" height="1" fill="#ffb060"/>
<rect x="319" y="246" width="1" height="1" fill="#ffb060"/>
<rect x="319" y="250" width="1" height="1" fill="#ffb060"/>
<rect x="319" y="257" width="1" height="1" fill="#ffb060"/>
<rect x="319" y="260" width="1" height="1" fill="#ffb060"/>
<rect x="319" y="270" width="1" height="1" fill="#ffb060"/>
<rect x="319" y="276" width="1" height="1" fill="#ffb060"/>
<rect x="321" y="244" width="1" height="1" fill="#ffb060"/>
<rect x="321" y="252" width="1" height="1" fill="#ffb060"/>
<rect x="321" y="255" width="1" height="1" fill="#ffb060"/>
<rect x="321" y="271" width="1" height="1" fill="#ffb060"/>
<rect x="321" y="274" width="1" height="1" fill="#ffb060"/>
<rect x="321" y="276" width="1" height="1" fill="#ffb060"/>
<rect x="321" y="278" width="1" height="1" fill="#ffb060"/>
<rect x="321" y="283" width="1" height="40" fill="#ff1e00"/>
<rect x="321" y="283" width="1" height="1" fill="#ffb060"/>
<rect x="321" y="322" width="1" height="1" fill="#ffb060"/>
<rect x="320" y="320" width="1" height="1" fill="#ffb060"/>
<rect x="322" y="283" width="1" height="49" fill="#ff1e00"/>
<rect x="322" y="283" width="1" height="1" fill="#ffb060"/>
<rect x="322" y="331" width="1" height="1" fill="#ffb060"/>
<rect x="321" y="325" width="1" height="1" fill="#ffb060"/>
<rect x="321" y="326" width="1" height="1" fill="#ffb060"/>
<rect x="321" y="327" width="1" height="1" fill="#ffb060"/>
<rect x="321" y="331" width="1" height="1" fill="#ffb060"/>
<rect x="323" y="328" width="1" height="1" fill="#ffb060"/>
<rect x="323" y="330" width="1" height="1" fill="#ffb060"/>
<rect x="322" y="304" width="1" height="4" fill="#ffb060"/>
<rect x="322" y="321" width="1" height="4" fill="#ff7a28"/>
<rect x="323" y="282" width="1" height="40" fill="#ff1e00"/>
<rect x="323" y="282" width="1" height="1" fill="#ff7a28"/>
<rect x="323" y="321" width="1" height="1" fill="#ffb060"/>
<rect x="324" y="277" width="1" height="43" fill="#ff1e00"/>
<rect x="324" y="277" width="1" height="1" fill="#ffb060"/>
<rect x="324" y="319" width="1" height="1" fill="#ff7a28"/>
<rect x="325" y="262" width="1" height="55" fill="#ff1e00"/>
<rect x="325" y="262" width="1" height="1" fill="#ff7a28"/>
<rect x="325" y="316" width="1" height="1" fill="#ff7a28"/>
<rect x="324" y="265" width="1" height="1" fill="#ffb060"/>
<rect x="324" y="267" width="1" height="1" fill="#ffb060"/>
<rect x="324" y="268" width="1" height="1" fill="#ffb060"/>
<rect x="325" y="280" width="1" height="1" fill="#ff7a28"/>
<rect x="326" y="265" width="1" height="49" fill="#ff1e00"/>
<rect x="326" y="265" width="1" height="1" fill="#ff7a28"/>
<rect x="326" y="313" width="1" height="1" fill="#ffb060"/>
<rect x="327" y="310" width="1" height="1" fill="#ffb060"/>
<rect x="327" y="313" width="1" height="1" fill="#ffb060"/>
<rect x="327" y="246" width="1" height="63" fill="#ff1e00"/>
<rect x="327" y="246" width="1" height="1" fill="#ffb060"/>
<rect x="327" y="308" width="1" height="1" fill="#ffb060"/>
<rect x="326" y="250" width="1" height="1" fill="#ffb060"/>
<rect x="328" y="301" width="1" height="1" fill="#ffb060"/>
<rect x="328" y="307" width="1" height="1" fill="#ffb060"/>
<rect x="327" y="286" width="1" height="2" fill="#ff7a28"/>
<rect x="328" y="245" width="1" height="55" fill="#ff1e00"/>
<rect x="328" y="245" width="1" height="1" fill="#ffb060"/>
<rect x="328" y="299" width="1" height="1" fill="#ffb060"/>
<rect x="329" y="296" width="1" height="1" fill="#ffb060"/>
<rect x="329" y="297" width="1" height="1" fill="#ffb060"/>
<rect x="328" y="266" width="1" height="2" fill="#ffb060"/>
<rect x="328" y="276" width="1" height="5" fill="#ff7a28"/>
<rect x="328" y="284" width="1" height="5" fill="#ff7a28"/>
<rect x="329" y="222" width="1" height="68" fill="#ff1e00"/>
<rect x="329" y="222" width="1" height="1" fill="#ff7a28"/>
<rect x="329" y="289" width="1" height="1" fill="#ffb060"/>
<rect x="328" y="222" width="1" height="1" fill="#ffb060"/>
<rect x="328" y="223" width="1" height="1" fill="#ffb060"/>
<rect x="328" y="224" width="1" height="1" fill="#ffb060"/>
<rect x="328" y="232" width="1" height="1" fill="#ffb060"/>
<rect x="328" y="233" width="1" height="1" fill="#ffb060"/>
<rect x="328" y="236" width="1" height="1" fill="#ffb060"/>
<rect x="328" y="238" width="1" height="1" fill="#ffb060"/>
<rect x="329" y="227" width="1" height="2" fill="#ff7a28"/>
<rect x="329" y="245" width="1" height="2" fill="#ffb060"/>
<rect x="330" y="207" width="1" height="81" fill="#ff1e00"/>
<rect x="330" y="207" width="1" height="1" fill="#ffb060"/>
<rect x="330" y="287" width="1" height="1" fill="#ff7a28"/>
<rect x="329" y="211" width="1" height="1" fill="#ffb060"/>
<rect x="329" y="212" width="1" height="1" fill="#ffb060"/>
<rect x="329" y="214" width="1" height="1" fill="#ffb060"/>
<rect x="329" y="217" width="1" height="1" fill="#ffb060"/>
<rect x="329" y="219" width="1" height="1" fill="#ffb060"/>
<rect x="330" y="280" width="1" height="5" fill="#fff"/>
<rect x="330" y="279" width="1" height="1" fill="#ff7a28"/>
<rect x="330" y="285" width="1" height="1" fill="#ffb060"/>
<rect x="330" y="260" width="1" height="1" fill="#ff7a28"/>
<rect x="331" y="205" width="1" height="82" fill="#ff1e00"/>
<rect x="331" y="205" width="1" height="1" fill="#ffb060"/>
<rect x="331" y="286" width="1" height="1" fill="#ffb060"/>
<rect x="331" y="233" width="1" height="3" fill="#ff7a28"/>
<rect x="332" y="207" width="1" height="92" fill="#ff1e00"/>
<rect x="332" y="207" width="1" height="1" fill="#ff7a28"/>
<rect x="332" y="298" width="1" height="1" fill="#ff7a28"/>
<rect x="331" y="288" width="1" height="1" fill="#ffb060"/>
<rect x="331" y="289" width="1" height="1" fill="#ffb060"/>
<rect x="331" y="294" width="1" height="1" fill="#ffb060"/>
<rect x="331" y="297" width="1" height="1" fill="#ffb060"/>
<rect x="333" y="207" width="1" height="1" fill="#ffb060"/>
<rect x="333" y="209" width="1" height="1" fill="#ffb060"/>
<rect x="333" y="216" width="1" height="1" fill="#ffb060"/>
<rect x="333" y="220" width="1" height="1" fill="#ffb060"/>
<rect x="333" y="224" width="1" height="1" fill="#ffb060"/>
<rect x="332" y="281" width="1" height="3" fill="#fff"/>
<rect x="332" y="280" width="1" height="1" fill="#ff7a28"/>
<rect x="332" y="284" width="1" height="1" fill="#ffb060"/>
<rect x="332" y="212" width="1" height="1" fill="#ff7a28"/>
<rect x="332" y="262" width="1" height="5" fill="#ffb060"/>
<rect x="332" y="284" width="1" height="4" fill="#ffb060"/>
<rect x="333" y="228" width="1" height="71" fill="#ff1e00"/>
<rect x="333" y="228" width="1" height="1" fill="#ffb060"/>
<rect x="333" y="298" width="1" height="1" fill="#ff7a28"/>
<rect x="333" y="238" width="1" height="5" fill="#fff"/>
<rect x="333" y="237" width="1" height="1" fill="#ff7a28"/>
<rect x="333" y="243" width="1" height="1" fill="#ffb060"/>
<rect x="334" y="231" width="1" height="72" fill="#ff1e00"/>
<rect x="334" y="231" width="1" height="1" fill="#ff7a28"/>
<rect x="334" y="302" width="1" height="1" fill="#ffb060"/>
<rect x="335" y="239" width="1" height="1" fill="#ffb060"/>
<rect x="335" y="241" width="1" height="1" fill="#ffb060"/>
<rect x="335" y="253" width="1" height="1" fill="#ffb060"/>
<rect x="335" y="257" width="1" height="1" fill="#ffb060"/>
<rect x="334" y="288" width="1" height="1" fill="#ffb060"/>
<rect x="335" y="259" width="1" height="49" fill="#ff1e00"/>
<rect x="335" y="259" width="1" height="1" fill="#ff7a28"/>
<rect x="335" y="307" width="1" height="1" fill="#ff7a28"/>
<rect x="336" y="260" width="1" height="1" fill="#ffb060"/>
<rect x="336" y="263" width="1" height="1" fill="#ffb060"/>
<rect x="336" y="265" width="1" height="50" fill="#ff1e00"/>
<rect x="336" y="265" width="1" height="1" fill="#ffb060"/>
<rect x="336" y="314" width="1" height="1" fill="#ffb060"/>
<rect x="335" y="310" width="1" height="1" fill="#ffb060"/>
<rect x="335" y="314" width="1" height="1" fill="#ffb060"/>
<rect x="337" y="265" width="1" height="1" fill="#ffb060"/>
<rect x="337" y="272" width="1" height="1" fill="#ffb060"/>
<rect x="337" y="273" width="1" height="1" fill="#ffb060"/>
<rect x="337" y="275" width="1" height="41" fill="#ff1e00"/>
<rect x="337" y="275" width="1" height="1" fill="#ff7a28"/>
<rect x="337" y="315" width="1" height="1" fill="#ffb060"/>
<rect x="337" y="302" width="1" height="3" fill="#ff7a28"/>
<rect x="338" y="281" width="1" height="38" fill="#ff1e00"/>
<rect x="338" y="281" width="1" height="1" fill="#ffb060"/>
<rect x="338" y="318" width="1" height="1" fill="#ffb060"/>
<rect x="339" y="271" width="1" height="45" fill="#ff1e00"/>
<rect x="339" y="271" width="1" height="1" fill="#ff7a28"/>
<rect x="339" y="315" width="1" height="1" fill="#ffb060"/>
<rect x="338" y="272" width="1" height="1" fill="#ffb060"/>
<rect x="338" y="273" width="1" height="1" fill="#ffb060"/>
<rect x="338" y="275" width="1" height="1" fill="#ffb060"/>
<rect x="338" y="277" width="1" height="1" fill="#ffb060"/>
<rect x="338" y="278" width="1" height="1" fill="#ffb060"/>
<rect x="338" y="279" width="1" height="1" fill="#ffb060"/>
<rect x="340" y="309" width="1" height="1" fill="#ffb060"/>
<rect x="340" y="262" width="1" height="45" fill="#ff1e00"/>
<rect x="340" y="262" width="1" height="1" fill="#ffb060"/>
<rect x="340" y="306" width="1" height="1" fill="#ff7a28"/>
<rect x="339" y="262" width="1" height="1" fill="#ffb060"/>
<rect x="339" y="266" width="1" height="1" fill="#ffb060"/>
<rect x="341" y="303" width="1" height="1" fill="#ffb060"/>
<rect x="340" y="266" width="1" height="5" fill="#ffb060"/>
<rect x="341" y="254" width="1" height="47" fill="#ff1e00"/>
<rect x="341" y="254" width="1" height="1" fill="#ffb060"/>
<rect x="341" y="300" width="1" height="1" fill="#ffb060"/>
<rect x="340" y="255" width="1" height="1" fill="#ffb060"/>
<rect x="342" y="255" width="1" height="1" fill="#ffb060"/>
<rect x="342" y="256" width="1" height="1" fill="#ffb060"/>
<rect x="342" y="261" width="1" height="1" fill="#ffb060"/>
<rect x="341" y="296" width="1" height="2" fill="#ff7a28"/>
<rect x="342" y="265" width="1" height="37" fill="#ff1e00"/>
<rect x="342" y="265" width="1" height="1" fill="#ffb060"/>
<rect x="342" y="301" width="1" height="1" fill="#ffb060"/>
<rect x="342" y="280" width="1" height="5" fill="#ff7a28"/>
<rect x="343" y="248" width="1" height="59" fill="#ff1e00"/>
<rect x="343" y="248" width="1" height="1" fill="#ff7a28"/>
<rect x="343" y="306" width="1" height="1" fill="#ffb060"/>
<rect x="342" y="249" width="1" height="1" fill="#ffb060"/>
<rect x="342" y="250" width="1" height="1" fill="#ffb060"/>
<rect x="342" y="251" width="1" height="1" fill="#ffb060"/>
<rect x="342" y="253" width="1" height="1" fill="#ffb060"/>
<rect x="342" y="254" width="1" height="1" fill="#ffb060"/>
<rect x="342" y="255" width="1" height="1" fill="#ffb060"/>
<rect x="342" y="263" width="1" height="1" fill="#ffb060"/>
<rect x="342" y="305" width="1" height="1" fill="#ffb060"/>
<rect x="343" y="258" width="1" height="2" fill="#ff7a28"/>
<rect x="343" y="300" width="1" height="5" fill="#ffb060"/>
<rect x="344" y="249" width="1" height="61" fill="#ff1e00"/>
<rect x="344" y="249" width="1" height="1" fill="#ff7a28"/>
<rect x="344" y="309" width="1" height="1" fill="#ffb060"/>
<rect x="344" y="264" width="1" height="5" fill="#ff7a28"/>
<rect x="345" y="241" width="1" height="69" fill="#ff1e00"/>
<rect x="345" y="241" width="1" height="1" fill="#ff7a28"/>
<rect x="345" y="309" width="1" height="1" fill="#ffb060"/>
<rect x="346" y="242" width="1" height="1" fill="#ffb060"/>
<rect x="346" y="244" width="1" height="1" fill="#ffb060"/>
<rect x="346" y="246" width="1" height="1" fill="#ffb060"/>
<rect x="346" y="250" width="1" height="1" fill="#ffb060"/>
<rect x="346" y="253" width="1" height="1" fill="#ffb060"/>
<rect x="346" y="255" width="1" height="1" fill="#ffb060"/>
<rect x="346" y="257" width="1" height="1" fill="#ffb060"/>
<rect x="346" y="260" width="1" height="1" fill="#ffb060"/>
<rect x="346" y="265" width="1" height="45" fill="#ff1e00"/>
<rect x="346" y="265" width="1" height="1" fill="#ff7a28"/>
<rect x="346" y="309" width="1" height="1" fill="#ff7a28"/>
<rect x="347" y="272" width="1" height="1" fill="#ffb060"/>
<rect x="347" y="274" width="1" height="1" fill="#ffb060"/>
<rect x="347" y="275" width="1" height="1" fill="#ffb060"/>
<rect x="347" y="277" width="1" height="1" fill="#ffb060"/>
<rect x="347" y="279" width="1" height="1" fill="#ffb060"/>
<rect x="347" y="287" width="1" height="1" fill="#ffb060"/>
<rect x="347" y="288" width="1" height="1" fill="#ffb060"/>
<rect x="347" y="293" width="1" height="1" fill="#ffb060"/>
<rect x="346" y="301" width="1" height="3" fill="#fff"/>
<rect x="346" y="300" width="1" height="1" fill="#ff7a28"/>
<rect x="346" y="304" width="1" height="1" fill="#ffb060"/>
<rect x="346" y="306" width="1" height="1" fill="#ff7a28"/>
<rect x="347" y="299" width="1" height="25" fill="#ff1e00"/>
<rect x="347" y="299" width="1" height="1" fill="#ff7a28"/>
<rect x="347" y="323" width="1" height="1" fill="#ffb060"/>
<rect x="346" y="318" width="1" height="1" fill="#ffb060"/>
<rect x="346" y="321" width="1" height="1" fill="#ffb060"/>
<rect x="346" y="323" width="1" height="1" fill="#ffb060"/>
<rect x="347" y="304" width="1" height="3" fill="#fff"/>
<rect x="347" y="303" width="1" height="1" fill="#ff7a28"/>
<rect x="347" y="307" width="1" height="1" fill="#ffb060"/>
<rect x="348" y="300" width="1" height="29" fill="#ff1e00"/>
<rect x="348" y="300" width="1" height="1" fill="#ff7a28"/>
<rect x="348" y="328" width="1" height="1" fill="#ffb060"/>
<rect x="347" y="325" width="1" height="1" fill="#ffb060"/>
<rect x="348" y="306" width="1" height="3" fill="#fff"/>
<rect x="348" y="305" width="1" height="1" fill="#ff7a28"/>
<rect x="348" y="309" width="1" height="1" fill="#ffb060"/>
<rect x="348" y="303" width="1" height="2" fill="#ff7a28"/>
<rect x="349" y="300" width="1" height="34" fill="#ff1e00"/>
<rect x="349" y="300" width="1" height="1" fill="#ff7a28"/>
<rect x="349" y="333" width="1" height="1" fill="#ffb060"/>
<rect x="348" y="330" width="1" height="1" fill="#ffb060"/>
<rect x="348" y="333" width="1" height="1" fill="#ffb060"/>
<rect x="350" y="326" width="1" height="1" fill="#ffb060"/>
<rect x="350" y="329" width="1" height="1" fill="#ffb060"/>
<rect x="350" y="330" width="1" height="1" fill="#ffb060"/>
<rect x="350" y="285" width="1" height="40" fill="#ff1e00"/>
<rect x="350" y="285" width="1" height="1" fill="#ff7a28"/>
<rect x="350" y="324" width="1" height="1" fill="#ffb060"/>
<rect x="349" y="290" width="1" height="1" fill="#ffb060"/>
<rect x="349" y="292" width="1" height="1" fill="#ffb060"/>
<rect x="349" y="298" width="1" height="1" fill="#ffb060"/>
<rect x="351" y="302" width="1" height="1" fill="#ffb060"/>
<rect x="351" y="305" width="1" height="1" fill="#ffb060"/>
<rect x="351" y="307" width="1" height="1" fill="#ffb060"/>
<rect x="351" y="318" width="1" height="1" fill="#ffb060"/>
<rect x="350" y="295" width="1" height="5" fill="#ff7a28"/>
<rect x="351" y="284" width="1" height="17" fill="#ff1e00"/>
<rect x="351" y="284" width="1" height="1" fill="#ff7a28"/>
<rect x="351" y="300" width="1" height="1" fill="#ffb060"/>
<rect x="351" y="287" width="1" height="4" fill="#fff"/>
<rect x="351" y="286" width="1" height="1" fill="#ff7a28"/>
<rect x="351" y="291" width="1" height="1" fill="#ffb060"/>
<rect x="351" y="298" width="1" height="2" fill="#ff7a28"/>
<rect x="352" y="285" width="1" height="18" fill="#ff1e00"/>
<rect x="352" y="285" width="1" height="1" fill="#ff7a28"/>
<rect x="352" y="302" width="1" height="1" fill="#ff7a28"/>
<rect x="352" y="288" width="1" height="4" fill="#fff"/>
<rect x="352" y="287" width="1" height="1" fill="#ff7a28"/>
<rect x="352" y="292" width="1" height="1" fill="#ffb060"/>
<rect x="352" y="288" width="1" height="5" fill="#ff7a28"/>
<rect x="353" y="279" width="1" height="25" fill="#ff1e00"/>
<rect x="353" y="279" width="1" height="1" fill="#ffb060"/>
<rect x="353" y="303" width="1" height="1" fill="#ffb060"/>
<rect x="352" y="282" width="1" height="1" fill="#ffb060"/>
<rect x="352" y="283" width="1" height="1" fill="#ffb060"/>
<rect x="354" y="275" width="1" height="25" fill="#ff1e00"/>
<rect x="354" y="275" width="1" height="1" fill="#ffb060"/>
<rect x="354" y="299" width="1" height="1" fill="#ffb060"/>
<rect x="354" y="292" width="1" height="5" fill="#fff"/>
<rect x="354" y="291" width="1" height="1" fill="#ff7a28"/>
<rect x="354" y="297" width="1" height="1" fill="#ffb060"/>
<rect x="354" y="279" width="1" height="4" fill="#ff7a28"/>
<rect x="355" y="273" width="1" height="36" fill="#ff1e00"/>
<rect x="355" y="273" width="1" height="1" fill="#ffb060"/>
<rect x="355" y="308" width="1" height="1" fill="#ffb060"/>
<rect x="354" y="303" width="1" height="1" fill="#ffb060"/>
<rect x="356" y="278" width="1" height="31" fill="#ff1e00"/>
<rect x="356" y="278" width="1" height="1" fill="#ffb060"/>
<rect x="356" y="308" width="1" height="1" fill="#ff7a28"/>
<rect x="356" y="303" width="1" height="2" fill="#ff7a28"/>
<rect x="357" y="276" width="1" height="42" fill="#ff1e00"/>
<rect x="357" y="276" width="1" height="1" fill="#ff7a28"/>
<rect x="357" y="317" width="1" height="1" fill="#ff7a28"/>
<rect x="356" y="310" width="1" height="1" fill="#ffb060"/>
<rect x="356" y="313" width="1" height="1" fill="#ffb060"/>
<rect x="356" y="315" width="1" height="1" fill="#ffb060"/>
<rect x="356" y="316" width="1" height="1" fill="#ffb060"/>
<rect x="358" y="276" width="1" height="1" fill="#ffb060"/>
<rect x="358" y="277" width="1" height="1" fill="#ffb060"/>
<rect x="358" y="281" width="1" height="40" fill="#ff1e00"/>
<rect x="358" y="281" width="1" height="1" fill="#ffb060"/>
<rect x="358" y="320" width="1" height="1" fill="#ff7a28"/>
<rect x="359" y="284" width="1" height="1" fill="#ffb060"/>
<rect x="359" y="289" width="1" height="1" fill="#ffb060"/>
<rect x="359" y="293" width="1" height="1" fill="#ffb060"/>
<rect x="358" y="288" width="1" height="3" fill="#ff7a28"/>
<rect x="359" y="295" width="1" height="29" fill="#ff1e00"/>
<rect x="359" y="295" width="1" height="1" fill="#ffb060"/>
<rect x="359" y="323" width="1" height="1" fill="#ffb060"/>
<rect x="359" y="296" width="1" height="2" fill="#ff7a28"/>
<rect x="360" y="294" width="1" height="30" fill="#ff1e00"/>
<rect x="360" y="294" width="1" height="1" fill="#ffb060"/>
<rect x="360" y="323" width="1" height="1" fill="#ff7a28"/>
<rect x="361" y="322" width="1" height="1" fill="#ffb060"/>
<rect x="361" y="323" width="1" height="1" fill="#ffb060"/>
<rect x="360" y="305" width="1" height="2" fill="#ff7a28"/>
<rect x="361" y="284" width="1" height="36" fill="#ff1e00"/>
<rect x="361" y="284" width="1" height="1" fill="#ffb060"/>
<rect x="361" y="319" width="1" height="1" fill="#ff7a28"/>
<rect x="360" y="289" width="1" height="1" fill="#ffb060"/>
<rect x="360" y="292" width="1" height="1" fill="#ffb060"/>
<rect x="362" y="287" width="1" height="1" fill="#ffb060"/>
<rect x="362" y="292" width="1" height="1" fill="#ffb060"/>
<rect x="362" y="316" width="1" height="1" fill="#ffb060"/>
<rect x="362" y="294" width="1" height="18" fill="#ff1e00"/>
<rect x="362" y="294" width="1" height="1" fill="#ffb060"/>
<rect x="362" y="311" width="1" height="1" fill="#ffb060"/>
<rect x="363" y="296" width="1" height="1" fill="#ffb060"/>
<rect x="363" y="300" width="1" height="12" fill="#ff1e00"/>
<rect x="363" y="300" width="1" height="1" fill="#ffb060"/>
<rect x="363" y="311" width="1" height="1" fill="#ffb060"/>
<rect x="363" y="302" width="1" height="4" fill="#ff7a28"/>
<rect x="364" y="301" width="1" height="19" fill="#ff1e00"/>
<rect x="364" y="301" width="1" height="1" fill="#ff7a28"/>
<rect x="364" y="319" width="1" height="1" fill="#ff7a28"/>
<rect x="363" y="315" width="1" height="1" fill="#ffb060"/>
<rect x="364" y="318" width="1" height="1" fill="#ff7a28"/>
<rect x="365" y="302" width="1" height="18" fill="#ff1e00"/>
<rect x="365" y="302" width="1" height="1" fill="#ffb060"/>
<rect x="365" y="319" width="1" height="1" fill="#ffb060"/>
<rect x="366" y="296" width="1" height="21" fill="#ff1e00"/>
<rect x="366" y="296" width="1" height="1" fill="#ffb060"/>
<rect x="366" y="316" width="1" height="1" fill="#ff7a28"/>
<rect x="365" y="297" width="1" height="1" fill="#ffb060"/>
<rect x="367" y="297" width="1" height="1" fill="#ffb060"/>
<rect x="367" y="299" width="1" height="1" fill="#ffb060"/>
<rect x="367" y="302" width="1" height="1" fill="#ffb060"/>
<rect x="367" y="305" width="1" height="18" fill="#ff1e00"/>
<rect x="367" y="305" width="1" height="1" fill="#ff7a28"/>
<rect x="367" y="322" width="1" height="1" fill="#ff7a28"/>
<rect x="366" y="322" width="1" height="1" fill="#ffb060"/>
<rect x="368" y="313" width="1" height="26" fill="#ff1e00"/>
<rect x="368" y="313" width="1" height="1" fill="#ffb060"/>
<rect x="368" y="338" width="1" height="1" fill="#ff7a28"/>
<rect x="367" y="327" width="1" height="1" fill="#ffb060"/>
<rect x="367" y="330" width="1" height="1" fill="#ffb060"/>
<rect x="367" y="333" width="1" height="1" fill="#ffb060"/>
<rect x="367" y="335" width="1" height="1" fill="#ffb060"/>
<rect x="367" y="337" width="1" height="1" fill="#ffb060"/>
<rect x="367" y="338" width="1" height="1" fill="#ffb060"/>
<rect x="368" y="321" width="1" height="5" fill="#ffb060"/>
<rect x="369" y="317" width="1" height="35" fill="#ff1e00"/>
<rect x="369" y="317" width="1" height="1" fill="#ff7a28"/>
<rect x="369" y="351" width="1" height="1" fill="#ffb060"/>
<rect x="368" y="346" width="1" height="1" fill="#ffb060"/>
<rect x="370" y="340" width="1" height="1" fill="#ffb060"/>
<rect x="370" y="343" width="1" height="1" fill="#ffb060"/>
<rect x="370" y="346" width="1" height="1" fill="#ffb060"/>
<rect x="370" y="347" width="1" height="1" fill="#ffb060"/>
<rect x="369" y="325" width="1" height="4" fill="#ff7a28"/>
<rect x="369" y="341" width="1" height="1" fill="#ff7a28"/>
<rect x="369" y="346" width="1" height="1" fill="#ffb060"/>
<rect x="370" y="317" width="1" height="16" fill="#ff1e00"/>
<rect x="370" y="317" width="1" height="1" fill="#ffb060"/>
<rect x="370" y="332" width="1" height="1" fill="#ffb060"/>
<rect x="371" y="329" width="1" height="1" fill="#ffb060"/>
<rect x="370" y="328" width="1" height="4" fill="#ff7a28"/>
<rect x="371" y="312" width="1" height="16" fill="#ff1e00"/>
<rect x="371" y="312" width="1" height="1" fill="#ff7a28"/>
<rect x="371" y="327" width="1" height="1" fill="#ff7a28"/>
<rect x="371" y="313" width="1" height="4" fill="#ffb060"/>
<rect x="372" y="311" width="1" height="16" fill="#ff1e00"/>
<rect x="372" y="311" width="1" height="1" fill="#ff7a28"/>
<rect x="372" y="326" width="1" height="1" fill="#ff7a28"/>
<rect x="372" y="324" width="1" height="2" fill="#ff7a28"/>
<rect x="373" y="307" width="1" height="18" fill="#ff1e00"/>
<rect x="373" y="307" width="1" height="1" fill="#ff7a28"/>
<rect x="373" y="324" width="1" height="1" fill="#ff7a28"/>
<rect x="372" y="307" width="1" height="1" fill="#ffb060"/>
<rect x="372" y="309" width="1" height="1" fill="#ffb060"/>
<rect x="374" y="306" width="1" height="12" fill="#ff1e00"/>
<rect x="374" y="306" width="1" height="1" fill="#ffb060"/>
<rect x="374" y="317" width="1" height="1" fill="#ffb060"/>
<rect x="374" y="308" width="1" height="5" fill="#ff7a28"/>
<rect x="375" y="299" width="1" height="17" fill="#ff1e00"/>
<rect x="375" y="299" width="1" height="1" fill="#ffb060"/>
<rect x="375" y="315" width="1" height="1" fill="#ff7a28"/>
<rect x="374" y="300" width="1" height="1" fill="#ffb060"/>
<rect x="376" y="300" width="1" height="18" fill="#ff1e00"/>
<rect x="376" y="300" width="1" height="1" fill="#ff7a28"/>
<rect x="376" y="317" width="1" height="1" fill="#ffb060"/>
<rect x="376" y="309" width="1" height="5" fill="#fff"/>
<rect x="376" y="308" width="1" height="1" fill="#ff7a28"/>
<rect x="376" y="314" width="1" height="1" fill="#ffb060"/>
<rect x="377" y="302" width="1" height="16" fill="#ff1e00"/>
<rect x="377" y="302" width="1" height="1" fill="#ffb060"/>
<rect x="377" y="317" width="1" height="1" fill="#ff7a28"/>
<rect x="377" y="306" width="1" height="2" fill="#fff"/>
<rect x="377" y="305" width="1" height="1" fill="#ff7a28"/>
<rect x="377" y="308" width="1" height="1" fill="#ffb060"/>
<rect x="378" y="297" width="1" height="22" fill="#ff1e00"/>
<rect x="378" y="297" width="1" height="1" fill="#ffb060"/>
<rect x="378" y="318" width="1" height="1" fill="#ff7a28"/>
<rect x="379" y="300" width="1" height="19" fill="#ff1e00"/>
<rect x="379" y="300" width="1" height="1" fill="#ffb060"/>
<rect x="379" y="318" width="1" height="1" fill="#ff7a28"/>
<rect x="380" y="295" width="1" height="29" fill="#ff1e00"/>
<rect x="380" y="295" width="1" height="1" fill="#ffb060"/>
<rect x="380" y="323" width="1" height="1" fill="#ff7a28"/>
<rect x="379" y="295" width="1" height="1" fill="#ffb060"/>
<rect x="379" y="322" width="1" height="1" fill="#ffb060"/>
<rect x="381" y="322" width="1" height="1" fill="#ffb060"/>
<rect x="381" y="283" width="1" height="35" fill="#ff1e00"/>
<rect x="381" y="283" width="1" height="1" fill="#ffb060"/>
<rect x="381" y="317" width="1" height="1" fill="#ffb060"/>
<rect x="380" y="288" width="1" height="1" fill="#ffb060"/>
<rect x="380" y="289" width="1" height="1" fill="#ffb060"/>
<rect x="380" y="290" width="1" height="1" fill="#ffb060"/>
<rect x="382" y="283" width="1" height="1" fill="#ffb060"/>
<rect x="382" y="289" width="1" height="28" fill="#ff1e00"/>
<rect x="382" y="289" width="1" height="1" fill="#ffb060"/>
<rect x="382" y="316" width="1" height="1" fill="#ffb060"/>
<rect x="382" y="291" width="1" height="4" fill="#ff7a28"/>
<rect x="383" y="290" width="1" height="27" fill="#ff1e00"/>
<rect x="383" y="290" width="1" height="1" fill="#ff7a28"/>
<rect x="383" y="316" width="1" height="1" fill="#ffb060"/>
<rect x="384" y="293" width="1" height="1" fill="#ffb060"/>
<rect x="383" y="304" width="1" height="3" fill="#ff7a28"/>
<rect x="384" y="300" width="1" height="26" fill="#ff1e00"/>
<rect x="384" y="300" width="1" height="1" fill="#ffb060"/>
<rect x="384" y="325" width="1" height="1" fill="#ffb060"/>
<rect x="385" y="318" width="1" height="1" fill="#ffb060"/>
<rect x="385" y="321" width="1" height="1" fill="#ffb060"/>
<rect x="385" y="324" width="1" height="1" fill="#ffb060"/>
<rect x="384" y="301" width="1" height="3" fill="#ff7a28"/>
<rect x="385" y="293" width="1" height="22" fill="#ff1e00"/>
<rect x="385" y="293" width="1" height="1" fill="#ff7a28"/>
<rect x="385" y="314" width="1" height="1" fill="#ffb060"/>
<rect x="384" y="293" width="1" height="1" fill="#ffb060"/>
<rect x="384" y="294" width="1" height="1" fill="#ffb060"/>
<rect x="384" y="295" width="1" height="1" fill="#ffb060"/>
<rect x="384" y="297" width="1" height="1" fill="#ffb060"/>
<rect x="386" y="294" width="1" height="20" fill="#ff1e00"/>
<rect x="386" y="294" width="1" height="1" fill="#ff7a28"/>
<rect x="386" y="313" width="1" height="1" fill="#ffb060"/>
<rect x="386" y="298" width="1" height="5" fill="#fff"/>
<rect x="386" y="297" width="1" height="1" fill="#ff7a28"/>
<rect x="386" y="303" width="1" height="1" fill="#ffb060"/>
<rect x="386" y="297" width="1" height="4" fill="#ffb060"/>
<rect x="387" y="292" width="1" height="21" fill="#ff1e00"/>
<rect x="387" y="292" width="1" height="1" fill="#ff7a28"/>
<rect x="387" y="312" width="1" height="1" fill="#ff7a28"/>
<rect x="388" y="296" width="1" height="18" fill="#ff1e00"/>
<rect x="388" y="296" width="1" height="1" fill="#ff7a28"/>
<rect x="388" y="313" width="1" height="1" fill="#ff7a28"/>
<rect x="388" y="300" width="1" height="5" fill="#fff"/>
<rect x="388" y="299" width="1" height="1" fill="#ff7a28"/>
<rect x="388" y="305" width="1" height="1" fill="#ffb060"/>
<rect x="389" y="298" width="1" height="22" fill="#ff1e00"/>
<rect x="389" y="298" width="1" height="1" fill="#ffb060"/>
<rect x="389" y="319" width="1" height="1" fill="#ffb060"/>
<rect x="388" y="315" width="1" height="1" fill="#ffb060"/>
<rect x="388" y="317" width="1" height="1" fill="#ffb060"/>
<rect x="390" y="282" width="1" height="37" fill="#ff1e00"/>
<rect x="390" y="282" width="1" height="1" fill="#ffb060"/>
<rect x="390" y="318" width="1" height="1" fill="#ffb060"/>
<rect x="389" y="283" width="1" height="1" fill="#ffb060"/>
<rect x="389" y="285" width="1" height="1" fill="#ffb060"/>
<rect x="389" y="294" width="1" height="1" fill="#ffb060"/>
<rect x="391" y="283" width="1" height="1" fill="#ffb060"/>
<rect x="391" y="288" width="1" height="1" fill="#ffb060"/>
<rect x="391" y="289" width="1" height="1" fill="#ffb060"/>
<rect x="391" y="290" width="1" height="1" fill="#ffb060"/>
<rect x="390" y="303" width="1" height="1" fill="#ff7a28"/>
<rect x="390" y="309" width="1" height="1" fill="#ffb060"/>
<rect x="391" y="295" width="1" height="21" fill="#ff1e00"/>
<rect x="391" y="295" width="1" height="1" fill="#ffb060"/>
<rect x="391" y="315" width="1" height="1" fill="#ff7a28"/>
<rect x="392" y="296" width="1" height="19" fill="#ff1e00"/>
<rect x="392" y="296" width="1" height="1" fill="#ff7a28"/>
<rect x="392" y="314" width="1" height="1" fill="#ff7a28"/>
<rect x="392" y="299" width="1" height="2" fill="#fff"/>
<rect x="392" y="298" width="1" height="1" fill="#ff7a28"/>
<rect x="392" y="301" width="1" height="1" fill="#ffb060"/>
<rect x="392" y="313" width="1" height="1" fill="#ff7a28"/>
<rect x="393" y="296" width="1" height="18" fill="#ff1e00"/>
<rect x="393" y="296" width="1" height="1" fill="#ff7a28"/>
<rect x="393" y="313" width="1" height="1" fill="#ff7a28"/>
<rect x="394" y="294" width="1" height="20" fill="#ff1e00"/>
<rect x="394" y="294" width="1" height="1" fill="#ffb060"/>
<rect x="394" y="313" width="1" height="1" fill="#ffb060"/>
<rect x="395" y="302" width="1" height="1" fill="#ffb060"/>
<rect x="395" y="303" width="1" height="1" fill="#ffb060"/>
<rect x="394" y="311" width="1" height="2" fill="#ff7a28"/>
<rect x="395" y="285" width="1" height="16" fill="#ff1e00"/>
<rect x="395" y="285" width="1" height="1" fill="#ff7a28"/>
<rect x="395" y="300" width="1" height="1" fill="#ffb060"/>
<rect x="394" y="285" width="1" height="1" fill="#ffb060"/>
<rect x="395" y="291" width="1" height="5" fill="#ff7a28"/>
<rect x="396" y="283" width="1" height="17" fill="#ff1e00"/>
<rect x="396" y="283" width="1" height="1" fill="#ffb060"/>
<rect x="396" y="299" width="1" height="1" fill="#ffb060"/>
<rect x="397" y="279" width="1" height="19" fill="#ff1e00"/>
<rect x="397" y="279" width="1" height="1" fill="#ff7a28"/>
<rect x="397" y="297" width="1" height="1" fill="#ff7a28"/>
<rect x="396" y="281" width="1" height="1" fill="#ffb060"/>
<rect x="398" y="277" width="1" height="21" fill="#ff1e00"/>
<rect x="398" y="277" width="1" height="1" fill="#ffb060"/>
<rect x="398" y="297" width="1" height="1" fill="#ffb060"/>
<rect x="398" y="282" width="1" height="3" fill="#ffb060"/>
<rect x="399" y="262" width="1" height="34" fill="#ff1e00"/>
<rect x="399" y="262" width="1" height="1" fill="#ff7a28"/>
<rect x="399" y="295" width="1" height="1" fill="#ffb060"/>
<rect x="398" y="262" width="1" height="1" fill="#ffb060"/>
<rect x="398" y="265" width="1" height="1" fill="#ffb060"/>
<rect x="398" y="267" width="1" height="1" fill="#ffb060"/>
<rect x="398" y="269" width="1" height="1" fill="#ffb060"/>
<rect x="400" y="262" width="1" height="1" fill="#ffb060"/>
<rect x="400" y="269" width="1" height="1" fill="#ffb060"/>
<rect x="400" y="272" width="1" height="1" fill="#ffb060"/>
<rect x="400" y="273" width="1" height="1" fill="#ffb060"/>
<rect x="400" y="274" width="1" height="1" fill="#ffb060"/>
<rect x="400" y="277" width="1" height="16" fill="#ff1e00"/>
<rect x="400" y="277" width="1" height="1" fill="#ff7a28"/>
<rect x="400" y="292" width="1" height="1" fill="#ffb060"/>
<rect x="400" y="288" width="1" height="2" fill="#ff7a28"/>
<rect x="400" y="291" width="1" height="1" fill="#ffb060"/>
<rect x="401" y="276" width="1" height="15" fill="#ff1e00"/>
<rect x="401" y="276" width="1" height="1" fill="#ff7a28"/>
<rect x="401" y="290" width="1" height="1" fill="#ffb060"/>
<rect x="402" y="277" width="1" height="1" fill="#ffb060"/>
<rect x="401" y="279" width="1" height="2" fill="#ff7a28"/>
<rect x="402" y="282" width="1" height="13" fill="#ff1e00"/>
<rect x="402" y="282" width="1" height="1" fill="#ff7a28"/>
<rect x="402" y="294" width="1" height="1" fill="#ff7a28"/>
<rect x="401" y="294" width="1" height="1" fill="#ffb060"/>
<rect x="403" y="282" width="1" height="13" fill="#ff1e00"/>
<rect x="403" y="282" width="1" height="1" fill="#ffb060"/>
<rect x="403" y="294" width="1" height="1" fill="#ffb060"/>
<rect x="404" y="270" width="1" height="28" fill="#ff1e00"/>
<rect x="404" y="270" width="1" height="1" fill="#ff7a28"/>
<rect x="404" y="297" width="1" height="1" fill="#ffb060"/>
<rect x="403" y="274" width="1" height="1" fill="#ffb060"/>
<rect x="403" y="275" width="1" height="1" fill="#ffb060"/>
<rect x="403" y="277" width="1" height="1" fill="#ffb060"/>
<rect x="405" y="271" width="1" height="1" fill="#ffb060"/>
<rect x="405" y="272" width="1" height="1" fill="#ffb060"/>
<rect x="405" y="273" width="1" height="1" fill="#ffb060"/>
<rect x="405" y="275" width="1" height="1" fill="#ffb060"/>
<rect x="404" y="295" width="1" height="2" fill="#ffb060"/>
<rect x="405" y="278" width="1" height="26" fill="#ff1e00"/>
<rect x="405" y="278" width="1" height="1" fill="#ffb060"/>
<rect x="405" y="303" width="1" height="1" fill="#ff7a28"/>
<rect x="406" y="278" width="1" height="1" fill="#ffb060"/>
<rect x="406" y="280" width="1" height="1" fill="#ffb060"/>
<rect x="405" y="281" width="1" height="2" fill="#ffb060"/>
<rect x="405" y="298" width="1" height="4" fill="#ff7a28"/>
<rect x="406" y="286" width="1" height="18" fill="#ff1e00"/>
<rect x="406" y="286" width="1" height="1" fill="#ffb060"/>
<rect x="406" y="303" width="1" height="1" fill="#ffb060"/>
<rect x="407" y="286" width="1" height="1" fill="#ffb060"/>
<rect x="407" y="287" width="1" height="1" fill="#ffb060"/>
<rect x="407" y="292" width="1" height="41" fill="#ff1e00"/>
<rect x="407" y="292" width="1" height="1" fill="#ffb060"/>
<rect x="407" y="332" width="1" height="1" fill="#ff7a28"/>
<rect x="406" y="309" width="1" height="1" fill="#ffb060"/>
<rect x="406" y="313" width="1" height="1" fill="#ffb060"/>
<rect x="406" y="320" width="1" height="1" fill="#ffb060"/>
<rect x="406" y="324" width="1" height="1" fill="#ffb060"/>
<rect x="406" y="331" width="1" height="1" fill="#ffb060"/>
<rect x="408" y="293" width="1" height="1" fill="#ffb060"/>
<rect x="408" y="295" width="1" height="1" fill="#ffb060"/>
<rect x="408" y="296" width="1" height="1" fill="#ffb060"/>
<rect x="408" y="300" width="1" height="1" fill="#ffb060"/>
<rect x="408" y="301" width="1" height="1" fill="#ffb060"/>
<rect x="408" y="302" width="1" height="1" fill="#ffb060"/>
<rect x="408" y="304" width="1" height="1" fill="#ffb060"/>
<rect x="408" y="310" width="1" height="1" fill="#ffb060"/>
<rect x="407" y="331" width="1" height="1" fill="#ff7a28"/>
<rect x="408" y="316" width="1" height="50" fill="#ff1e00"/>
<rect x="408" y="316" width="1" height="1" fill="#ff7a28"/>
<rect x="408" y="365" width="1" height="1" fill="#ffb060"/>
<rect x="407" y="336" width="1" height="1" fill="#ffb060"/>
<rect x="407" y="340" width="1" height="1" fill="#ffb060"/>
<rect x="407" y="342" width="1" height="1" fill="#ffb060"/>
<rect x="407" y="344" width="1" height="1" fill="#ffb060"/>
<rect x="407" y="350" width="1" height="1" fill="#ffb060"/>
<rect x="407" y="352" width="1" height="1" fill="#ffb060"/>
<rect x="407" y="355" width="1" height="1" fill="#ffb060"/>
<rect x="407" y="362" width="1" height="1" fill="#ffb060"/>
<rect x="409" y="361" width="1" height="1" fill="#ffb060"/>
<rect x="408" y="321" width="1" height="1" fill="#ffb060"/>
<rect x="408" y="324" width="1" height="4" fill="#ffb060"/>
<rect x="408" y="353" width="1" height="2" fill="#ffb060"/>
<rect x="409" y="317" width="1" height="42" fill="#ff1e00"/>
<rect x="409" y="317" width="1" height="1" fill="#ff7a28"/>
<rect x="409" y="358" width="1" height="1" fill="#ffb060"/>
<rect x="410" y="347" width="1" height="1" fill="#ffb060"/>
<rect x="410" y="348" width="1" height="1" fill="#ffb060"/>
<rect x="410" y="350" width="1" height="1" fill="#ffb060"/>
<rect x="410" y="351" width="1" height="1" fill="#ffb060"/>
<rect x="410" y="355" width="1" height="1" fill="#ffb060"/>
<rect x="409" y="338" width="1" height="5" fill="#ffb060"/>
<rect x="409" y="349" width="1" height="4" fill="#ff7a28"/>
<rect x="410" y="320" width="1" height="14" fill="#ff1e00"/>
<rect x="410" y="320" width="1" height="1" fill="#ff7a28"/>
<rect x="410" y="333" width="1" height="1" fill="#ff7a28"/>
<rect x="411" y="319" width="1" height="15" fill="#ff1e00"/>
<rect x="411" y="319" width="1" height="1" fill="#ff7a28"/>
<rect x="411" y="333" width="1" height="1" fill="#ff7a28"/>
<rect x="412" y="330" width="1" height="1" fill="#ffb060"/>
<rect x="411" y="324" width="1" height="5" fill="#ffb060"/>
<rect x="412" y="314" width="1" height="14" fill="#ff1e00"/>
<rect x="412" y="314" width="1" height="1" fill="#ffb060"/>
<rect x="412" y="327" width="1" height="1" fill="#ffb060"/>
<rect x="411" y="314" width="1" height="1" fill="#ffb060"/>
<rect x="413" y="308" width="1" height="15" fill="#ff1e00"/>
<rect x="413" y="308" width="1" height="1" fill="#ff7a28"/>
<rect x="413" y="322" width="1" height="1" fill="#ffb060"/>
<rect x="412" y="309" width="1" height="1" fill="#ffb060"/>
<rect x="412" y="310" width="1" height="1" fill="#ffb060"/>
<rect x="412" y="311" width="1" height="1" fill="#ffb060"/>
<rect x="412" y="312" width="1" height="1" fill="#ffb060"/>
<rect x="414" y="312" width="1" height="8" fill="#ff1e00"/>
<rect x="414" y="312" width="1" height="1" fill="#ff7a28"/>
<rect x="414" y="319" width="1" height="1" fill="#ff7a28"/>
<rect x="415" y="316" width="1" height="8" fill="#ff1e00"/>
<rect x="415" y="316" width="1" height="1" fill="#ff7a28"/>
<rect x="415" y="323" width="1" height="1" fill="#ffb060"/>
<rect x="414" y="321" width="1" height="1" fill="#ffb060"/>
<rect x="414" y="323" width="1" height="1" fill="#ffb060"/>
<rect x="416" y="319" width="1" height="15" fill="#ff1e00"/>
<rect x="416" y="319" width="1" height="1" fill="#ff7a28"/>
<rect x="416" y="333" width="1" height="1" fill="#ff7a28"/>
<rect x="415" y="331" width="1" height="1" fill="#ffb060"/>
<rect x="416" y="330" width="1" height="3" fill="#ff7a28"/>
<rect x="417" y="300" width="1" height="34" fill="#ff1e00"/>
<rect x="417" y="300" width="1" height="1" fill="#ffb060"/>
<rect x="417" y="333" width="1" height="1" fill="#ffb060"/>
<rect x="416" y="305" width="1" height="1" fill="#ffb060"/>
<rect x="416" y="308" width="1" height="1" fill="#ffb060"/>
<rect x="416" y="310" width="1" height="1" fill="#ffb060"/>
<rect x="416" y="314" width="1" height="1" fill="#ffb060"/>
<rect x="416" y="317" width="1" height="1" fill="#ffb060"/>
<rect x="418" y="321" width="1" height="1" fill="#ffb060"/>
<rect x="418" y="330" width="1" height="1" fill="#ffb060"/>
<rect x="418" y="332" width="1" height="1" fill="#ffb060"/>
<rect x="418" y="301" width="1" height="17" fill="#ff1e00"/>
<rect x="418" y="301" width="1" height="1" fill="#ff7a28"/>
<rect x="418" y="317" width="1" height="1" fill="#ffb060"/>
<rect x="419" y="304" width="1" height="15" fill="#ff1e00"/>
<rect x="419" y="304" width="1" height="1" fill="#ffb060"/>
<rect x="419" y="318" width="1" height="1" fill="#ffb060"/>
<rect x="420" y="304" width="1" height="26" fill="#ff1e00"/>
<rect x="420" y="304" width="1" height="1" fill="#ffb060"/>
<rect x="420" y="329" width="1" height="1" fill="#ff7a28"/>
<rect x="419" y="320" width="1" height="1" fill="#ffb060"/>
<rect x="419" y="322" width="1" height="1" fill="#ffb060"/>
<rect x="419" y="326" width="1" height="1" fill="#ffb060"/>
<rect x="419" y="328" width="1" height="1" fill="#ffb060"/>
<rect x="419" y="329" width="1" height="1" fill="#ffb060"/>
<rect x="421" y="304" width="1" height="1" fill="#ffb060"/>
<rect x="421" y="305" width="1" height="1" fill="#ffb060"/>
<rect x="421" y="310" width="1" height="1" fill="#ffb060"/>
<rect x="421" y="313" width="1" height="1" fill="#ffb060"/>
<rect x="421" y="319" width="1" height="1" fill="#ffb060"/>
<rect x="421" y="320" width="1" height="1" fill="#ffb060"/>
<rect x="421" y="321" width="1" height="1" fill="#ffb060"/>
<rect x="421" y="327" width="1" height="1" fill="#ffb060"/>
<rect x="420" y="313" width="1" height="1" fill="#ff7a28"/>
<rect x="421" y="331" width="1" height="20" fill="#ff1e00"/>
<rect x="421" y="331" width="1" height="1" fill="#ffb060"/>
<rect x="421" y="350" width="1" height="1" fill="#ffb060"/>
<rect x="420" y="331" width="1" height="1" fill="#ffb060"/>
<rect x="420" y="338" width="1" height="1" fill="#ffb060"/>
<rect x="420" y="340" width="1" height="1" fill="#ffb060"/>
<rect x="420" y="342" width="1" height="1" fill="#ffb060"/>
<rect x="420" y="348" width="1" height="1" fill="#ffb060"/>
<rect x="422" y="331" width="1" height="21" fill="#ff1e00"/>
<rect x="422" y="331" width="1" height="1" fill="#ffb060"/>
<rect x="422" y="351" width="1" height="1" fill="#ffb060"/>
<rect x="423" y="349" width="1" height="1" fill="#ffb060"/>
<rect x="422" y="348" width="1" height="3" fill="#ff7a28"/>
<rect x="423" y="330" width="1" height="17" fill="#ff1e00"/>
<rect x="423" y="330" width="1" height="1" fill="#ffb060"/>
<rect x="423" y="346" width="1" height="1" fill="#ff7a28"/>
<rect x="424" y="341" width="1" height="1" fill="#ffb060"/>
<rect x="424" y="343" width="1" height="1" fill="#ffb060"/>
<rect x="424" y="330" width="1" height="9" fill="#ff1e00"/>
<rect x="424" y="330" width="1" height="1" fill="#ffb060"/>
<rect x="424" y="338" width="1" height="1" fill="#ff7a28"/>
<rect x="425" y="332" width="1" height="8" fill="#ff1e00"/>
<rect x="425" y="332" width="1" height="1" fill="#ffb060"/>
<rect x="425" y="339" width="1" height="1" fill="#ffb060"/>
<rect x="425" y="335" width="1" height="1" fill="#ffb060"/>
<rect x="426" y="333" width="1" height="11" fill="#ff1e00"/>
<rect x="426" y="333" width="1" height="1" fill="#ffb060"/>
<rect x="426" y="343" width="1" height="1" fill="#ff7a28"/>
<rect x="427" y="328" width="1" height="12" fill="#ff1e00"/>
<rect x="427" y="328" width="1" height="1" fill="#ff7a28"/>
<rect x="427" y="339" width="1" height="1" fill="#ffb060"/>
<rect x="428" y="327" width="1" height="11" fill="#ff1e00"/>
<rect x="428" y="327" width="1" height="1" fill="#ffb060"/>
<rect x="428" y="337" width="1" height="1" fill="#ffb060"/>
<rect x="429" y="324" width="1" height="12" fill="#ff1e00"/>
<rect x="429" y="324" width="1" height="1" fill="#ff7a28"/>
<rect x="429" y="335" width="1" height="1" fill="#ffb060"/>
<rect x="430" y="324" width="1" height="11" fill="#ff1e00"/>
<rect x="430" y="324" width="1" height="1" fill="#ffb060"/>
<rect x="430" y="334" width="1" height="1" fill="#ff7a28"/>
<rect x="431" y="316" width="1" height="19" fill="#ff1e00"/>
<rect x="431" y="316" width="1" height="1" fill="#ffb060"/>
<rect x="431" y="334" width="1" height="1" fill="#ffb060"/>
<rect x="430" y="317" width="1" height="1" fill="#ffb060"/>
<rect x="430" y="319" width="1" height="1" fill="#ffb060"/>
<rect x="430" y="320" width="1" height="1" fill="#ffb060"/>
<rect x="431" y="321" width="1" height="3" fill="#ff7a28"/>
<rect x="432" y="317" width="1" height="20" fill="#ff1e00"/>
<rect x="432" y="317" width="1" height="1" fill="#ff7a28"/>
<rect x="432" y="336" width="1" height="1" fill="#ffb060"/>
<rect x="433" y="307" width="1" height="32" fill="#ff1e00"/>
<rect x="433" y="307" width="1" height="1" fill="#ff7a28"/>
<rect x="433" y="338" width="1" height="1" fill="#ff7a28"/>
<rect x="432" y="307" width="1" height="1" fill="#ffb060"/>
<rect x="433" y="308" width="1" height="5" fill="#ff7a28"/>
<rect x="434" y="309" width="1" height="28" fill="#ff1e00"/>
<rect x="434" y="309" width="1" height="1" fill="#ffb060"/>
<rect x="434" y="336" width="1" height="1" fill="#ffb060"/>
<rect x="435" y="314" width="1" height="20" fill="#ff1e00"/>
<rect x="435" y="314" width="1" height="1" fill="#ff7a28"/>
<rect x="435" y="333" width="1" height="1" fill="#ffb060"/>
<rect x="436" y="308" width="1" height="25" fill="#ff1e00"/>
<rect x="436" y="308" width="1" height="1" fill="#ffb060"/>
<rect x="436" y="332" width="1" height="1" fill="#ffb060"/>
<rect x="437" y="330" width="1" height="1" fill="#ffb060"/>
<rect x="437" y="331" width="1" height="1" fill="#ffb060"/>
<rect x="437" y="332" width="1" height="1" fill="#ffb060"/>
<rect x="437" y="314" width="1" height="14" fill="#ff1e00"/>
<rect x="437" y="314" width="1" height="1" fill="#ffb060"/>
<rect x="437" y="327" width="1" height="1" fill="#ff7a28"/>
<rect x="437" y="316" width="1" height="2" fill="#ff7a28"/>
<rect x="438" y="317" width="1" height="11" fill="#ff1e00"/>
<rect x="438" y="317" width="1" height="1" fill="#ffb060"/>
<rect x="438" y="327" width="1" height="1" fill="#ffb060"/>
<rect x="439" y="313" width="1" height="18" fill="#ff1e00"/>
<rect x="439" y="313" width="1" height="1" fill="#ffb060"/>
<rect x="439" y="330" width="1" height="1" fill="#ffb060"/>
<rect x="440" y="326" width="1" height="1" fill="#ffb060"/>
<rect x="440" y="327" width="1" height="1" fill="#ffb060"/>
<rect x="440" y="329" width="1" height="1" fill="#ffb060"/>
<rect x="440" y="303" width="1" height="22" fill="#ff1e00"/>
<rect x="440" y="303" width="1" height="1" fill="#ff7a28"/>
<rect x="440" y="324" width="1" height="1" fill="#ffb060"/>
<rect x="439" y="305" width="1" height="1" fill="#ffb060"/>
<rect x="439" y="311" width="1" height="1" fill="#ffb060"/>
<rect x="441" y="305" width="1" height="20" fill="#ff1e00"/>
<rect x="441" y="305" width="1" height="1" fill="#ffb060"/>
<rect x="441" y="324" width="1" height="1" fill="#ff7a28"/>
<rect x="442" y="318" width="1" height="1" fill="#ffb060"/>
<rect x="442" y="322" width="1" height="1" fill="#ffb060"/>
<rect x="441" y="317" width="1" height="4" fill="#ffb060"/>
<rect x="442" y="300" width="1" height="15" fill="#ff1e00"/>
<rect x="442" y="300" width="1" height="1" fill="#ffb060"/>
<rect x="442" y="314" width="1" height="1" fill="#ff7a28"/>
<rect x="441" y="303" width="1" height="1" fill="#ffb060"/>
<rect x="442" y="307" width="1" height="5" fill="#fff"/>
<rect x="442" y="306" width="1" height="1" fill="#ff7a28"/>
<rect x="442" y="312" width="1" height="1" fill="#ffb060"/>
<rect x="443" y="302" width="1" height="16" fill="#ff1e00"/>
<rect x="443" y="302" width="1" height="1" fill="#ffb060"/>
<rect x="443" y="317" width="1" height="1" fill="#ff7a28"/>
<rect x="444" y="305" width="1" height="10" fill="#ff1e00"/>
<rect x="444" y="305" width="1" height="1" fill="#ff7a28"/>
<rect x="444" y="314" width="1" height="1" fill="#ff7a28"/>
<rect x="445" y="305" width="1" height="11" fill="#ff1e00"/>
<rect x="445" y="305" width="1" height="1" fill="#ffb060"/>
<rect x="445" y="315" width="1" height="1" fill="#ff7a28"/>
<rect x="445" y="307" width="1" height="3" fill="#ff7a28"/>
<rect x="446" y="305" width="1" height="13" fill="#ff1e00"/>
<rect x="446" y="305" width="1" height="1" fill="#ffb060"/>
<rect x="446" y="317" width="1" height="1" fill="#ffb060"/>
<rect x="447" y="316" width="1" height="1" fill="#ffb060"/>
<rect x="447" y="295" width="1" height="18" fill="#ff1e00"/>
<rect x="447" y="295" width="1" height="1" fill="#ff7a28"/>
<rect x="447" y="312" width="1" height="1" fill="#ffb060"/>
<rect x="446" y="299" width="1" height="1" fill="#ffb060"/>
<rect x="446" y="300" width="1" height="1" fill="#ffb060"/>
<rect x="446" y="303" width="1" height="1" fill="#ffb060"/>
<rect x="448" y="295" width="1" height="10" fill="#ff1e00"/>
<rect x="448" y="295" width="1" height="1" fill="#ffb060"/>
<rect x="448" y="304" width="1" height="1" fill="#ff7a28"/>
<rect x="448" y="298" width="1" height="1" fill="#ff7a28"/>
<rect x="449" y="296" width="1" height="10" fill="#ff1e00"/>
<rect x="449" y="296" width="1" height="1" fill="#ffb060"/>
<rect x="449" y="305" width="1" height="1" fill="#ff7a28"/>
<rect x="450" y="297" width="1" height="10" fill="#ff1e00"/>
<rect x="450" y="297" width="1" height="1" fill="#ffb060"/>
<rect x="450" y="306" width="1" height="1" fill="#ff7a28"/>
<rect x="450" y="299" width="1" height="1" fill="#ffb060"/>
<rect x="451" y="300" width="1" height="13" fill="#ff1e00"/>
<rect x="451" y="300" width="1" height="1" fill="#ff7a28"/>
<rect x="451" y="312" width="1" height="1" fill="#ffb060"/>
<rect x="450" y="312" width="1" height="1" fill="#ffb060"/>
<rect x="451" y="303" width="1" height="5" fill="#ff7a28"/>
<rect x="451" y="310" width="1" height="2" fill="#ff7a28"/>
<rect x="452" y="302" width="1" height="16" fill="#ff1e00"/>
<rect x="452" y="302" width="1" height="1" fill="#ff7a28"/>
<rect x="452" y="317" width="1" height="1" fill="#ffb060"/>
<rect x="453" y="315" width="1" height="1" fill="#ffb060"/>
<rect x="453" y="316" width="1" height="1" fill="#ffb060"/>
<rect x="452" y="307" width="1" height="1" fill="#ff7a28"/>
<rect x="453" y="300" width="1" height="14" fill="#ff1e00"/>
<rect x="453" y="300" width="1" height="1" fill="#ffb060"/>
<rect x="453" y="313" width="1" height="1" fill="#ffb060"/>
<rect x="453" y="303" width="1" height="3" fill="#ff7a28"/>
<rect x="454" y="299" width="1" height="16" fill="#ff1e00"/>
<rect x="454" y="299" width="1" height="1" fill="#ff7a28"/>
<rect x="454" y="314" width="1" height="1" fill="#ffb060"/>
<rect x="454" y="313" width="1" height="1" fill="#ff7a28"/>
<rect x="455" y="299" width="1" height="15" fill="#ff1e00"/>
<rect x="455" y="299" width="1" height="1" fill="#ffb060"/>
<rect x="455" y="313" width="1" height="1" fill="#ffb060"/>
<rect x="455" y="302" width="1" height="4" fill="#fff"/>
<rect x="455" y="301" width="1" height="1" fill="#ff7a28"/>
<rect x="455" y="306" width="1" height="1" fill="#ffb060"/>
<rect x="455" y="312" width="1" height="1" fill="#ff7a28"/>
<rect x="456" y="296" width="1" height="16" fill="#ff1e00"/>
<rect x="456" y="296" width="1" height="1" fill="#ffb060"/>
<rect x="456" y="311" width="1" height="1" fill="#ff7a28"/>
<rect x="457" y="301" width="1" height="12" fill="#ff1e00"/>
<rect x="457" y="301" width="1" height="1" fill="#ffb060"/>
<rect x="457" y="312" width="1" height="1" fill="#ffb060"/>
<rect x="458" y="301" width="1" height="1" fill="#ffb060"/>
<rect x="458" y="305" width="1" height="13" fill="#ff1e00"/>
<rect x="458" y="305" width="1" height="1" fill="#ffb060"/>
<rect x="458" y="317" width="1" height="1" fill="#ff7a28"/>
<rect x="459" y="306" width="1" height="14" fill="#ff1e00"/>
<rect x="459" y="306" width="1" height="1" fill="#ff7a28"/>
<rect x="459" y="319" width="1" height="1" fill="#ffb060"/>
<rect x="460" y="301" width="1" height="17" fill="#ff1e00"/>
<rect x="460" y="301" width="1" height="1" fill="#ffb060"/>
<rect x="460" y="317" width="1" height="1" fill="#ffb060"/>
<rect x="459" y="302" width="1" height="1" fill="#ffb060"/>
<rect x="461" y="305" width="1" height="13" fill="#ff1e00"/>
<rect x="461" y="305" width="1" height="1" fill="#ffb060"/>
<rect x="461" y="317" width="1" height="1" fill="#ffb060"/>
<rect x="462" y="308" width="1" height="16" fill="#ff1e00"/>
<rect x="462" y="308" width="1" height="1" fill="#ff7a28"/>
<rect x="462" y="323" width="1" height="1" fill="#ff7a28"/>
<rect x="463" y="322" width="1" height="1" fill="#ffb060"/>
<rect x="463" y="303" width="1" height="15" fill="#ff1e00"/>
<rect x="463" y="303" width="1" height="1" fill="#ff7a28"/>
<rect x="463" y="317" width="1" height="1" fill="#ff7a28"/>
<rect x="462" y="303" width="1" height="1" fill="#ffb060"/>
<rect x="464" y="302" width="1" height="13" fill="#ff1e00"/>
<rect x="464" y="302" width="1" height="1" fill="#ff7a28"/>
<rect x="464" y="314" width="1" height="1" fill="#ffb060"/>
<rect x="465" y="313" width="1" height="1" fill="#ffb060"/>
<rect x="464" y="312" width="1" height="2" fill="#ff7a28"/>
<rect x="465" y="299" width="1" height="10" fill="#ff1e00"/>
<rect x="465" y="299" width="1" height="1" fill="#ff7a28"/>
<rect x="465" y="308" width="1" height="1" fill="#ff7a28"/>
<rect x="465" y="305" width="1" height="3" fill="#ff7a28"/>
<rect x="466" y="297" width="1" height="10" fill="#ff1e00"/>
<rect x="466" y="297" width="1" height="1" fill="#ff7a28"/>
<rect x="466" y="306" width="1" height="1" fill="#ff7a28"/>
<rect x="467" y="290" width="1" height="12" fill="#ff1e00"/>
<rect x="467" y="290" width="1" height="1" fill="#ffb060"/>
<rect x="467" y="301" width="1" height="1" fill="#ffb060"/>
<rect x="466" y="290" width="1" height="1" fill="#ffb060"/>
<rect x="466" y="295" width="1" height="1" fill="#ffb060"/>
<rect x="468" y="299" width="1" height="1" fill="#ffb060"/>
<rect x="468" y="300" width="1" height="1" fill="#ffb060"/>
<rect x="468" y="273" width="1" height="25" fill="#ff1e00"/>
<rect x="468" y="273" width="1" height="1" fill="#ff7a28"/>
<rect x="468" y="297" width="1" height="1" fill="#ffb060"/>
<rect x="467" y="277" width="1" height="1" fill="#ffb060"/>
<rect x="467" y="278" width="1" height="1" fill="#ffb060"/>
<rect x="467" y="282" width="1" height="1" fill="#ffb060"/>
<rect x="467" y="284" width="1" height="1" fill="#ffb060"/>
<rect x="467" y="287" width="1" height="1" fill="#ffb060"/>
<rect x="469" y="273" width="1" height="1" fill="#ffb060"/>
<rect x="469" y="279" width="1" height="1" fill="#ffb060"/>
<rect x="469" y="280" width="1" height="1" fill="#ffb060"/>
<rect x="468" y="274" width="1" height="5" fill="#ff7a28"/>
<rect x="469" y="283" width="1" height="16" fill="#ff1e00"/>
<rect x="469" y="283" width="1" height="1" fill="#ff7a28"/>
<rect x="469" y="298" width="1" height="1" fill="#ffb060"/>
<rect x="470" y="287" width="1" height="13" fill="#ff1e00"/>
<rect x="470" y="287" width="1" height="1" fill="#ff7a28"/>
<rect x="470" y="299" width="1" height="1" fill="#ffb060"/>
<rect x="471" y="288" width="1" height="20" fill="#ff1e00"/>
<rect x="471" y="288" width="1" height="1" fill="#ffb060"/>
<rect x="471" y="307" width="1" height="1" fill="#ff7a28"/>
<rect x="470" y="301" width="1" height="1" fill="#ffb060"/>
<rect x="470" y="304" width="1" height="1" fill="#ffb060"/>
<rect x="471" y="300" width="1" height="4" fill="#ff7a28"/>
<rect x="472" y="290" width="1" height="18" fill="#ff1e00"/>
<rect x="472" y="290" width="1" height="1" fill="#ffb060"/>
<rect x="472" y="307" width="1" height="1" fill="#ff7a28"/>
<rect x="473" y="306" width="1" height="1" fill="#ffb060"/>
<rect x="472" y="293" width="1" height="3" fill="#fff"/>
<rect x="472" y="292" width="1" height="1" fill="#ff7a28"/>
<rect x="472" y="296" width="1" height="1" fill="#ffb060"/>
<rect x="472" y="305" width="1" height="2" fill="#ff7a28"/>
<rect x="473" y="287" width="1" height="16" fill="#ff1e00"/>
<rect x="473" y="287" width="1" height="1" fill="#ffb060"/>
<rect x="473" y="302" width="1" height="1" fill="#ffb060"/>
<rect x="474" y="298" width="1" height="1" fill="#ffb060"/>
<rect x="473" y="294" width="1" height="2" fill="#ffb060"/>
<rect x="474" y="271" width="1" height="24" fill="#ff1e00"/>
<rect x="474" y="271" width="1" height="1" fill="#ffb060"/>
<rect x="474" y="294" width="1" height="1" fill="#ffb060"/>
<rect x="473" y="273" width="1" height="1" fill="#ffb060"/>
<rect x="473" y="276" width="1" height="1" fill="#ffb060"/>
<rect x="473" y="277" width="1" height="1" fill="#ffb060"/>
<rect x="473" y="281" width="1" height="1" fill="#ffb060"/>
<rect x="473" y="282" width="1" height="1" fill="#ffb060"/>
<rect x="474" y="293" width="1" height="1" fill="#ff7a28"/>
<rect x="475" y="265" width="1" height="29" fill="#ff1e00"/>
<rect x="475" y="265" width="1" height="1" fill="#ff7a28"/>
<rect x="475" y="293" width="1" height="1" fill="#ffb060"/>
<rect x="474" y="268" width="1" height="1" fill="#ffb060"/>
<rect x="476" y="264" width="1" height="26" fill="#ff1e00"/>
<rect x="476" y="264" width="1" height="1" fill="#ffb060"/>
<rect x="476" y="289" width="1" height="1" fill="#ffb060"/>
<rect x="477" y="287" width="1" height="1" fill="#ffb060"/>
<rect x="477" y="288" width="1" height="1" fill="#ffb060"/>
<rect x="477" y="267" width="1" height="17" fill="#ff1e00"/>
<rect x="477" y="267" width="1" height="1" fill="#ffb060"/>
<rect x="477" y="283" width="1" height="1" fill="#ff7a28"/>
<rect x="477" y="270" width="1" height="4" fill="#fff"/>
<rect x="477" y="269" width="1" height="1" fill="#ff7a28"/>
<rect x="477" y="274" width="1" height="1" fill="#ffb060"/>
<rect x="478" y="265" width="1" height="28" fill="#ff1e00"/>
<rect x="478" y="265" width="1" height="1" fill="#ff7a28"/>
<rect x="478" y="292" width="1" height="1" fill="#ffb060"/>
<rect x="477" y="286" width="1" height="1" fill="#ffb060"/>
<rect x="479" y="262" width="1" height="32" fill="#ff1e00"/>
<rect x="479" y="262" width="1" height="1" fill="#ff7a28"/>
<rect x="479" y="293" width="1" height="1" fill="#ffb060"/>
<rect x="480" y="262" width="1" height="1" fill="#ffb060"/>
<rect x="479" y="265" width="1" height="3" fill="#ffb060"/>
<rect x="479" y="289" width="1" height="2" fill="#ffb060"/>
<rect x="480" y="277" width="1" height="18" fill="#ff1e00"/>
<rect x="480" y="277" width="1" height="1" fill="#ffb060"/>
<rect x="480" y="294" width="1" height="1" fill="#ffb060"/>
<rect x="481" y="279" width="1" height="18" fill="#ff1e00"/>
<rect x="481" y="279" width="1" height="1" fill="#ffb060"/>
<rect x="481" y="296" width="1" height="1" fill="#ffb060"/>
<rect x="481" y="294" width="1" height="2" fill="#ff7a28"/>
<rect x="482" y="280" width="1" height="20" fill="#ff1e00"/>
<rect x="482" y="280" width="1" height="1" fill="#ffb060"/>
<rect x="482" y="299" width="1" height="1" fill="#ff7a28"/>
<rect x="482" y="292" width="1" height="3" fill="#fff"/>
<rect x="482" y="291" width="1" height="1" fill="#ff7a28"/>
<rect x="482" y="295" width="1" height="1" fill="#ffb060"/>
<rect x="483" y="285" width="1" height="21" fill="#ff1e00"/>
<rect x="483" y="285" width="1" height="1" fill="#ffb060"/>
<rect x="483" y="305" width="1" height="1" fill="#ffb060"/>
<rect x="484" y="287" width="1" height="1" fill="#ffb060"/>
<rect x="484" y="291" width="1" height="17" fill="#ff1e00"/>
<rect x="484" y="291" width="1" height="1" fill="#ff7a28"/>
<rect x="484" y="307" width="1" height="1" fill="#ff7a28"/>
<rect x="484" y="295" width="1" height="4" fill="#ff7a28"/>
<rect x="485" y="293" width="1" height="15" fill="#ff1e00"/>
<rect x="485" y="293" width="1" height="1" fill="#ff7a28"/>
<rect x="485" y="307" width="1" height="1" fill="#ffb060"/>
<rect x="485" y="303" width="1" height="3" fill="#ffb060"/>
<rect x="486" y="292" width="1" height="15" fill="#ff1e00"/>
<rect x="486" y="292" width="1" height="1" fill="#ffb060"/>
<rect x="486" y="306" width="1" height="1" fill="#ffb060"/>
<rect x="487" y="290" width="1" height="16" fill="#ff1e00"/>
<rect x="487" y="290" width="1" height="1" fill="#ff7a28"/>
<rect x="487" y="305" width="1" height="1" fill="#ffb060"/>
<rect x="487" y="302" width="1" height="3" fill="#ff7a28"/>
<rect x="488" y="292" width="1" height="20" fill="#ff1e00"/>
<rect x="488" y="292" width="1" height="1" fill="#ff7a28"/>
<rect x="488" y="311" width="1" height="1" fill="#ffb060"/>
<rect x="487" y="307" width="1" height="1" fill="#ffb060"/>
<rect x="489" y="292" width="1" height="1" fill="#ffb060"/>
<rect x="489" y="297" width="1" height="15" fill="#ff1e00"/>
<rect x="489" y="297" width="1" height="1" fill="#ffb060"/>
<rect x="489" y="311" width="1" height="1" fill="#ffb060"/>
<rect x="490" y="310" width="1" height="1" fill="#ffb060"/>
<rect x="490" y="298" width="1" height="10" fill="#ff1e00"/>
<rect x="490" y="298" width="1" height="1" fill="#ffb060"/>
<rect x="490" y="307" width="1" height="1" fill="#ffb060"/>
<rect x="491" y="307" width="1" height="1" fill="#ffb060"/>
<rect x="491" y="290" width="1" height="12" fill="#ff1e00"/>
<rect x="491" y="290" width="1" height="1" fill="#ff7a28"/>
<rect x="491" y="301" width="1" height="1" fill="#ffb060"/>
<rect x="490" y="293" width="1" height="1" fill="#ffb060"/>
<rect x="492" y="290" width="1" height="8" fill="#ff1e00"/>
<rect x="492" y="290" width="1" height="1" fill="#ffb060"/>
<rect x="492" y="297" width="1" height="1" fill="#ff7a28"/>
<rect x="493" y="290" width="1" height="7" fill="#ff1e00"/>
<rect x="493" y="290" width="1" height="1" fill="#ffb060"/>
<rect x="493" y="296" width="1" height="1" fill="#ffb060"/>
<rect x="494" y="291" width="1" height="6" fill="#ff1e00"/>
<rect x="494" y="291" width="1" height="1" fill="#ff7a28"/>
<rect x="494" y="296" width="1" height="1" fill="#ffb060"/>
<rect x="494" y="292" width="1" height="3" fill="#ff7a28"/>
<rect x="495" y="292" width="1" height="8" fill="#ff1e00"/>
<rect x="495" y="292" width="1" height="1" fill="#ffb060"/>
<rect x="495" y="299" width="1" height="1" fill="#ffb060"/>
<rect x="496" y="293" width="1" height="6" fill="#ff1e00"/>
<rect x="496" y="293" width="1" height="1" fill="#ff7a28"/>
<rect x="496" y="298" width="1" height="1" fill="#ffb060"/>
<rect x="497" y="293" width="1" height="4" fill="#ff1e00"/>
<rect x="497" y="293" width="1" height="1" fill="#ff7a28"/>
<rect x="497" y="296" width="1" height="1" fill="#ff7a28"/>
<rect x="498" y="288" width="1" height="9" fill="#ff1e00"/>
<rect x="498" y="288" width="1" height="1" fill="#ffb060"/>
<rect x="498" y="296" width="1" height="1" fill="#ffb060"/>
<rect x="497" y="289" width="1" height="1" fill="#ffb060"/>
<rect x="497" y="291" width="1" height="1" fill="#ffb060"/>
<rect x="499" y="294" width="1" height="1" fill="#ffb060"/>
<rect x="499" y="284" width="1" height="8" fill="#ff1e00"/>
<rect x="499" y="284" width="1" height="1" fill="#ffb060"/>
<rect x="499" y="291" width="1" height="1" fill="#ff7a28"/>
<rect x="498" y="286" width="1" height="1" fill="#ffb060"/>
<rect x="500" y="284" width="1" height="7" fill="#ff1e00"/>
<rect x="500" y="284" width="1" height="1" fill="#ffb060"/>
<rect x="500" y="290" width="1" height="1" fill="#ffb060"/>
<rect x="501" y="285" width="1" height="6" fill="#ff1e00"/>
<rect x="501" y="285" width="1" height="1" fill="#ffb060"/>
<rect x="501" y="290" width="1" height="1" fill="#ffb060"/>
<rect x="502" y="285" width="1" height="5" fill="#ff1e00"/>
<rect x="502" y="285" width="1" height="1" fill="#ffb060"/>
<rect x="502" y="289" width="1" height="1" fill="#ff7a28"/>
<rect x="503" y="284" width="1" height="6" fill="#ff1e00"/>
<rect x="503" y="284" width="1" height="1" fill="#ff7a28"/>
<rect x="503" y="289" width="1" height="1" fill="#ff7a28"/>
<rect x="504" y="279" width="1" height="10" fill="#ff1e00"/>
<rect x="504" y="279" width="1" height="1" fill="#ff7a28"/>
<rect x="504" y="288" width="1" height="1" fill="#ffb060"/>
<rect x="505" y="271" width="1" height="16" fill="#ff1e00"/>
<rect x="505" y="271" width="1" height="1" fill="#ff7a28"/>
<rect x="505" y="286" width="1" height="1" fill="#ff7a28"/>
<rect x="504" y="271" width="1" height="1" fill="#ffb060"/>
<rect x="506" y="268" width="1" height="12" fill="#ff1e00"/>
<rect x="506" y="268" width="1" height="1" fill="#ffb060"/>
<rect x="506" y="279" width="1" height="1" fill="#ff7a28"/>
<rect x="507" y="267" width="1" height="12" fill="#ff1e00"/>
<rect x="507" y="267" width="1" height="1" fill="#ff7a28"/>
<rect x="507" y="278" width="1" height="1" fill="#ff7a28"/>
<rect x="508" y="268" width="1" height="8" fill="#ff1e00"/>
<rect x="508" y="268" width="1" height="1" fill="#ff7a28"/>
<rect x="508" y="275" width="1" height="1" fill="#ffb060"/>
<rect x="509" y="269" width="1" height="7" fill="#ff1e00"/>
<rect x="509" y="269" width="1" height="1" fill="#ffb060"/>
<rect x="509" y="275" width="1" height="1" fill="#ffb060"/>
<rect x="510" y="265" width="1" height="11" fill="#ff1e00"/>
<rect x="510" y="265" width="1" height="1" fill="#ffb060"/>
<rect x="510" y="275" width="1" height="1" fill="#ff7a28"/>
<rect x="511" y="273" width="1" height="1" fill="#ffb060"/>
<rect x="510" y="273" width="1" height="2" fill="#ffb060"/>
<rect x="511" y="264" width="1" height="8" fill="#ff1e00"/>
<rect x="511" y="264" width="1" height="1" fill="#ff7a28"/>
<rect x="511" y="271" width="1" height="1" fill="#ff7a28"/>
<rect x="512" y="264" width="1" height="5" fill="#ff1e00"/>
<rect x="512" y="264" width="1" height="1" fill="#ffb060"/>
<rect x="512" y="268" width="1" height="1" fill="#ff7a28"/>
<rect x="513" y="264" width="1" height="3" fill="#ff1e00"/>
<rect x="513" y="264" width="1" height="1" fill="#ff7a28"/>
<rect x="513" y="266" width="1" height="1" fill="#ffb060"/>
<rect x="514" y="264" width="1" height="2" fill="#ff1e00"/>
<rect x="514" y="264" width="1" height="1" fill="#ffb060"/>
<rect x="514" y="265" width="1" height="1" fill="#ff7a28"/>
</g>
<g shape-rendering="crispEdges">
<rect x="89" y="90" width="1" height="309" fill="#000"/>
<rect x="85" y="398" width="475" height="1" fill="#000"/>
<rect x="85" y="90" width="4" height="1" fill="#000"/>
<rect x="87" y="167" width="2" height="1" fill="#000"/>
<rect x="87" y="244" width="2" height="1" fill="#000"/>
<rect x="87" y="321" width="2" height="1" fill="#000"/>
<rect x="131" y="399" width="1" height="4" fill="#000"/>
<rect x="168" y="399" width="1" height="4" fill="#000"/>
<rect x="285" y="399" width="1" height="4" fill="#000"/>
<rect x="323" y="399" width="1" height="4" fill="#000"/>
<rect x="402" y="399" width="1" height="4" fill="#000"/>
<rect x="440" y="399" width="1" height="4" fill="#000"/>
</g>
</svg>
</body></html>
